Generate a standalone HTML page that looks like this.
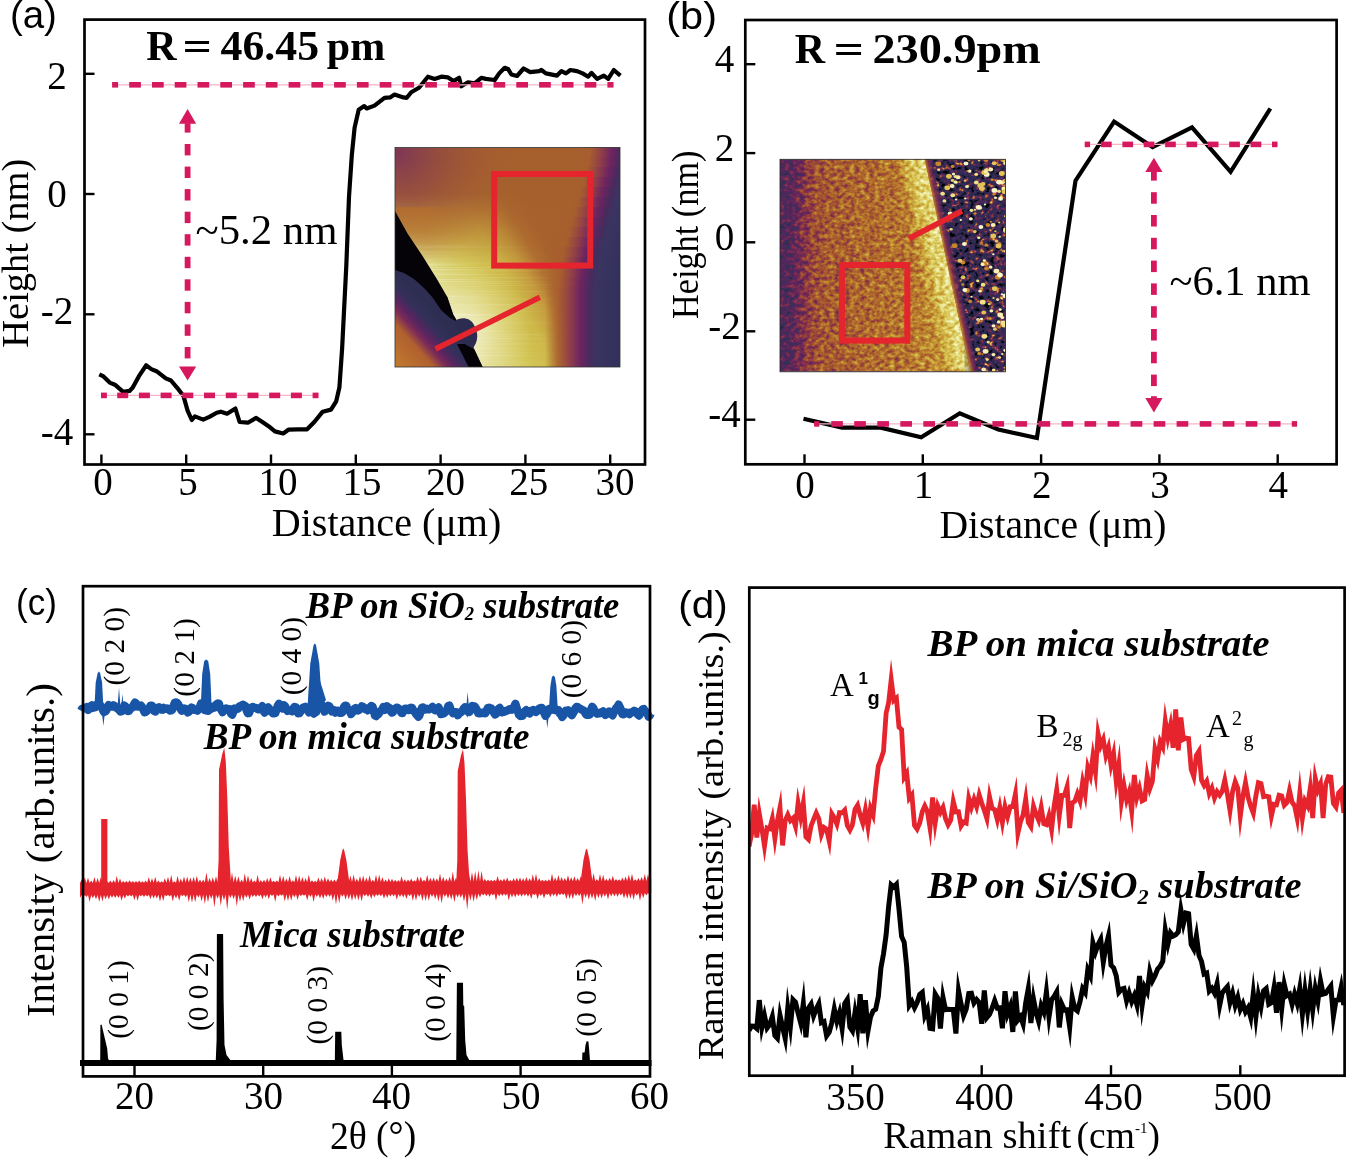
<!DOCTYPE html><html><head><meta charset="utf-8"><style>html,body{margin:0;padding:0;background:#fff;}svg{display:block;will-change:transform;}</style></head><body>
<svg width="1348" height="1158" viewBox="0 0 1348 1158">
<rect width="1348" height="1158" fill="#fff"/>
<defs><filter id="afmBL" filterUnits="userSpaceOnUse" x="779" y="158" width="228" height="215" color-interpolation-filters="sRGB">
 <feTurbulence type="fractalNoise" baseFrequency="0.2 0.26" numOctaves="2" seed="4" result="n"/>
 <feColorMatrix in="n" type="matrix" values="1 0 0 0 0  1 0 0 0 0  1 0 0 0 0  0 0 0 0 1" result="ng"/>
 <feComposite in="SourceGraphic" in2="ng" operator="arithmetic" k1="0" k2="1" k3="0.45" k4="-0.225" result="h"/>
 <feComponentTransfer in="h" result="c">
  <feFuncR type="table" tableValues="0.000 0.047 0.141 0.208 0.345 0.533 0.659 0.753 0.831 0.910 0.988"/>
  <feFuncG type="table" tableValues="0.000 0.039 0.133 0.196 0.141 0.188 0.353 0.541 0.737 0.894 0.988"/>
  <feFuncB type="table" tableValues="0.000 0.110 0.243 0.345 0.369 0.290 0.173 0.188 0.282 0.549 0.910"/>
  <feFuncA type="linear" slope="0" intercept="1"/>
 </feComponentTransfer>
 <feComposite in="c" in2="SourceAlpha" operator="in"/>
</filter>
<filter id="afmBR" filterUnits="userSpaceOnUse" x="779" y="158" width="228" height="215" color-interpolation-filters="sRGB">
 <feTurbulence type="fractalNoise" baseFrequency="0.2 0.24" numOctaves="2" seed="9" result="n"/>
 <feColorMatrix in="n" type="matrix" values="1 0 0 0 0  1 0 0 0 0  1 0 0 0 0  0 0 0 0 1" result="ng"/>
 <feComposite in="SourceGraphic" in2="ng" operator="arithmetic" k1="0" k2="1" k3="1.3" k4="-0.650" result="h"/>
 <feComponentTransfer in="h" result="c">
  <feFuncR type="table" tableValues="0.000 0.024 0.110 0.173 0.196 0.306 0.541 0.722 0.863 0.957 1.000"/>
  <feFuncG type="table" tableValues="0.000 0.016 0.102 0.165 0.173 0.149 0.204 0.455 0.769 0.941 1.000"/>
  <feFuncB type="table" tableValues="0.000 0.055 0.204 0.314 0.337 0.345 0.282 0.173 0.345 0.722 0.941"/>
  <feFuncA type="linear" slope="0" intercept="1"/>
 </feComponentTransfer>
 <feComposite in="c" in2="SourceAlpha" operator="in"/>
</filter>
<linearGradient id="bHL" gradientUnits="userSpaceOnUse" x1="780" y1="0" x2="930" y2="0">
 <stop offset="0" stop-color="#5e5e5e"/>
 <stop offset="0.07" stop-color="#636363"/>
 <stop offset="0.14" stop-color="#787878"/>
 <stop offset="0.22" stop-color="#8f8f8f"/>
 <stop offset="0.32" stop-color="#999999"/>
 <stop offset="0.6" stop-color="#a1a1a1"/>
 <stop offset="0.85" stop-color="#a8a8a8"/>
 <stop offset="1" stop-color="#b2b2b2"/>
</linearGradient>
<linearGradient id="bHE" gradientUnits="userSpaceOnUse" x1="916.5" y1="272.2" x2="947.8" y2="265.5">
 <stop offset="0" stop-color="#adadad" stop-opacity="0"/>
 <stop offset="0.35" stop-color="#c4c4c4" stop-opacity="1"/>
 <stop offset="0.7" stop-color="#d9d9d9"/>
 <stop offset="1" stop-color="#e0e0e0"/>
</linearGradient>
<linearGradient id="bHR" gradientUnits="userSpaceOnUse" x1="947.8" y1="265.5" x2="965.4" y2="261.8">
 <stop offset="0" stop-color="#8c8c8c"/>
 <stop offset="0.2" stop-color="#737373"/>
 <stop offset="0.5" stop-color="#5c5c5c"/>
 <stop offset="1" stop-color="#5e5e5e"/>
</linearGradient>
<linearGradient id="bHR2" gradientUnits="userSpaceOnUse" x1="955" y1="0" x2="1006" y2="0">
 <stop offset="0" stop-color="#5e5e5e" stop-opacity="0"/>
 <stop offset="1" stop-color="#6e6e6e" stop-opacity="1"/>
</linearGradient>
<linearGradient id="bRim" gradientUnits="userSpaceOnUse" x1="947.8" y1="265.5" x2="955.6" y2="263.8">
 <stop offset="0" stop-color="#c07a30" stop-opacity="0.9"/>
 <stop offset="0.35" stop-color="#8a3448" stop-opacity="0.85"/>
 <stop offset="0.75" stop-color="#5a2460" stop-opacity="0.7"/>
 <stop offset="1" stop-color="#3a2a58" stop-opacity="0"/>
</linearGradient>
<filter id="blobBlur" x="-0.1" y="-0.1" width="1.2" height="1.2"><feGaussianBlur stdDeviation="0.45"/></filter>
<linearGradient id="aR0" gradientUnits="userSpaceOnUse" x1="576.5" y1="0" x2="656.5" y2="0"><stop offset="0" stop-color="#a85e2e" stop-opacity="0"/><stop offset="0.1625" stop-color="#a85e2e" stop-opacity="0.9"/><stop offset="0.3125" stop-color="#903e48"/><stop offset="0.4375" stop-color="#6e2460"/><stop offset="0.55" stop-color="#4a2a5e"/><stop offset="0.6375" stop-color="#3a3460"/><stop offset="1" stop-color="#30305a"/></linearGradient>
<linearGradient id="aR1" gradientUnits="userSpaceOnUse" x1="575.4" y1="0" x2="655.4" y2="0"><stop offset="0" stop-color="#a85e2e" stop-opacity="0"/><stop offset="0.1625" stop-color="#a85e2e" stop-opacity="0.9"/><stop offset="0.3125" stop-color="#903e48"/><stop offset="0.4375" stop-color="#6e2460"/><stop offset="0.55" stop-color="#4a2a5e"/><stop offset="0.6375" stop-color="#3a3460"/><stop offset="1" stop-color="#30305a"/></linearGradient>
<linearGradient id="aR2" gradientUnits="userSpaceOnUse" x1="573.2" y1="0" x2="653.2" y2="0"><stop offset="0" stop-color="#a85e2e" stop-opacity="0"/><stop offset="0.1625" stop-color="#a85e2e" stop-opacity="0.9"/><stop offset="0.3125" stop-color="#903e48"/><stop offset="0.4375" stop-color="#6e2460"/><stop offset="0.55" stop-color="#4a2a5e"/><stop offset="0.6375" stop-color="#3a3460"/><stop offset="1" stop-color="#30305a"/></linearGradient>
<linearGradient id="aR3" gradientUnits="userSpaceOnUse" x1="570.3" y1="0" x2="650.3" y2="0"><stop offset="0" stop-color="#a85e2e" stop-opacity="0"/><stop offset="0.1625" stop-color="#a85e2e" stop-opacity="0.9"/><stop offset="0.3125" stop-color="#903e48"/><stop offset="0.4375" stop-color="#6e2460"/><stop offset="0.55" stop-color="#4a2a5e"/><stop offset="0.6375" stop-color="#3a3460"/><stop offset="1" stop-color="#30305a"/></linearGradient>
<linearGradient id="aR4" gradientUnits="userSpaceOnUse" x1="567.4" y1="0" x2="647.4" y2="0"><stop offset="0" stop-color="#a85e2e" stop-opacity="0"/><stop offset="0.1625" stop-color="#a85e2e" stop-opacity="0.9"/><stop offset="0.3125" stop-color="#903e48"/><stop offset="0.4375" stop-color="#6e2460"/><stop offset="0.55" stop-color="#4a2a5e"/><stop offset="0.6375" stop-color="#3a3460"/><stop offset="1" stop-color="#30305a"/></linearGradient>
<linearGradient id="aR5" gradientUnits="userSpaceOnUse" x1="564.4" y1="0" x2="644.4" y2="0"><stop offset="0" stop-color="#a85e2e" stop-opacity="0"/><stop offset="0.1625" stop-color="#a85e2e" stop-opacity="0.9"/><stop offset="0.3125" stop-color="#903e48"/><stop offset="0.4375" stop-color="#6e2460"/><stop offset="0.55" stop-color="#4a2a5e"/><stop offset="0.6375" stop-color="#3a3460"/><stop offset="1" stop-color="#30305a"/></linearGradient>
<linearGradient id="aR6" gradientUnits="userSpaceOnUse" x1="561.6" y1="0" x2="641.6" y2="0"><stop offset="0" stop-color="#a85e2e" stop-opacity="0"/><stop offset="0.1625" stop-color="#a85e2e" stop-opacity="0.9"/><stop offset="0.3125" stop-color="#903e48"/><stop offset="0.4375" stop-color="#6e2460"/><stop offset="0.55" stop-color="#4a2a5e"/><stop offset="0.6375" stop-color="#3a3460"/><stop offset="1" stop-color="#30305a"/></linearGradient>
<linearGradient id="aR7" gradientUnits="userSpaceOnUse" x1="558.8" y1="0" x2="638.8" y2="0"><stop offset="0" stop-color="#a85e2e" stop-opacity="0"/><stop offset="0.1625" stop-color="#a85e2e" stop-opacity="0.9"/><stop offset="0.3125" stop-color="#903e48"/><stop offset="0.4375" stop-color="#6e2460"/><stop offset="0.55" stop-color="#4a2a5e"/><stop offset="0.6375" stop-color="#3a3460"/><stop offset="1" stop-color="#30305a"/></linearGradient>
<linearGradient id="aR8" gradientUnits="userSpaceOnUse" x1="556.0" y1="0" x2="636.0" y2="0"><stop offset="0" stop-color="#a85e2e" stop-opacity="0"/><stop offset="0.1625" stop-color="#a85e2e" stop-opacity="0.9"/><stop offset="0.3125" stop-color="#903e48"/><stop offset="0.4375" stop-color="#6e2460"/><stop offset="0.55" stop-color="#4a2a5e"/><stop offset="0.6375" stop-color="#3a3460"/><stop offset="1" stop-color="#30305a"/></linearGradient>
<linearGradient id="aR9" gradientUnits="userSpaceOnUse" x1="553.2" y1="0" x2="633.2" y2="0"><stop offset="0" stop-color="#a85e2e" stop-opacity="0"/><stop offset="0.1625" stop-color="#a85e2e" stop-opacity="0.9"/><stop offset="0.3125" stop-color="#903e48"/><stop offset="0.4375" stop-color="#6e2460"/><stop offset="0.55" stop-color="#4a2a5e"/><stop offset="0.6375" stop-color="#3a3460"/><stop offset="1" stop-color="#30305a"/></linearGradient>
<linearGradient id="aR10" gradientUnits="userSpaceOnUse" x1="550.4" y1="0" x2="630.4" y2="0"><stop offset="0" stop-color="#a85e2e" stop-opacity="0"/><stop offset="0.1625" stop-color="#a85e2e" stop-opacity="0.9"/><stop offset="0.3125" stop-color="#903e48"/><stop offset="0.4375" stop-color="#6e2460"/><stop offset="0.55" stop-color="#4a2a5e"/><stop offset="0.6375" stop-color="#3a3460"/><stop offset="1" stop-color="#30305a"/></linearGradient>
<linearGradient id="aR11" gradientUnits="userSpaceOnUse" x1="548.4" y1="0" x2="628.4" y2="0"><stop offset="0" stop-color="#a85e2e" stop-opacity="0"/><stop offset="0.1625" stop-color="#a85e2e" stop-opacity="0.9"/><stop offset="0.3125" stop-color="#903e48"/><stop offset="0.4375" stop-color="#6e2460"/><stop offset="0.55" stop-color="#4a2a5e"/><stop offset="0.6375" stop-color="#3a3460"/><stop offset="1" stop-color="#30305a"/></linearGradient>
<linearGradient id="aR12" gradientUnits="userSpaceOnUse" x1="547.2" y1="0" x2="627.2" y2="0"><stop offset="0" stop-color="#a85e2e" stop-opacity="0"/><stop offset="0.1625" stop-color="#a85e2e" stop-opacity="0.9"/><stop offset="0.3125" stop-color="#903e48"/><stop offset="0.4375" stop-color="#6e2460"/><stop offset="0.55" stop-color="#4a2a5e"/><stop offset="0.6375" stop-color="#3a3460"/><stop offset="1" stop-color="#30305a"/></linearGradient>
<linearGradient id="aR13" gradientUnits="userSpaceOnUse" x1="546.0" y1="0" x2="626.0" y2="0"><stop offset="0" stop-color="#a85e2e" stop-opacity="0"/><stop offset="0.1625" stop-color="#a85e2e" stop-opacity="0.9"/><stop offset="0.3125" stop-color="#903e48"/><stop offset="0.4375" stop-color="#6e2460"/><stop offset="0.55" stop-color="#4a2a5e"/><stop offset="0.6375" stop-color="#3a3460"/><stop offset="1" stop-color="#30305a"/></linearGradient>
<linearGradient id="aR14" gradientUnits="userSpaceOnUse" x1="545.0" y1="0" x2="625.0" y2="0"><stop offset="0" stop-color="#a85e2e" stop-opacity="0"/><stop offset="0.1625" stop-color="#a85e2e" stop-opacity="0.9"/><stop offset="0.3125" stop-color="#903e48"/><stop offset="0.4375" stop-color="#6e2460"/><stop offset="0.55" stop-color="#4a2a5e"/><stop offset="0.6375" stop-color="#3a3460"/><stop offset="1" stop-color="#30305a"/></linearGradient>
<linearGradient id="aR15" gradientUnits="userSpaceOnUse" x1="545.0" y1="0" x2="625.0" y2="0"><stop offset="0" stop-color="#a85e2e" stop-opacity="0"/><stop offset="0.1625" stop-color="#a85e2e" stop-opacity="0.9"/><stop offset="0.3125" stop-color="#903e48"/><stop offset="0.4375" stop-color="#6e2460"/><stop offset="0.55" stop-color="#4a2a5e"/><stop offset="0.6375" stop-color="#3a3460"/><stop offset="1" stop-color="#30305a"/></linearGradient>
<linearGradient id="aR16" gradientUnits="userSpaceOnUse" x1="545.0" y1="0" x2="625.0" y2="0"><stop offset="0" stop-color="#a85e2e" stop-opacity="0"/><stop offset="0.1625" stop-color="#a85e2e" stop-opacity="0.9"/><stop offset="0.3125" stop-color="#903e48"/><stop offset="0.4375" stop-color="#6e2460"/><stop offset="0.55" stop-color="#4a2a5e"/><stop offset="0.6375" stop-color="#3a3460"/><stop offset="1" stop-color="#30305a"/></linearGradient>
<linearGradient id="aR17" gradientUnits="userSpaceOnUse" x1="545.0" y1="0" x2="625.0" y2="0"><stop offset="0" stop-color="#a85e2e" stop-opacity="0"/><stop offset="0.1625" stop-color="#a85e2e" stop-opacity="0.9"/><stop offset="0.3125" stop-color="#903e48"/><stop offset="0.4375" stop-color="#6e2460"/><stop offset="0.55" stop-color="#4a2a5e"/><stop offset="0.6375" stop-color="#3a3460"/><stop offset="1" stop-color="#30305a"/></linearGradient>
<linearGradient id="aR18" gradientUnits="userSpaceOnUse" x1="545.0" y1="0" x2="625.0" y2="0"><stop offset="0" stop-color="#a85e2e" stop-opacity="0"/><stop offset="0.1625" stop-color="#a85e2e" stop-opacity="0.9"/><stop offset="0.3125" stop-color="#903e48"/><stop offset="0.4375" stop-color="#6e2460"/><stop offset="0.55" stop-color="#4a2a5e"/><stop offset="0.6375" stop-color="#3a3460"/><stop offset="1" stop-color="#30305a"/></linearGradient>
<linearGradient id="aR19" gradientUnits="userSpaceOnUse" x1="545.0" y1="0" x2="625.0" y2="0"><stop offset="0" stop-color="#a85e2e" stop-opacity="0"/><stop offset="0.1625" stop-color="#a85e2e" stop-opacity="0.9"/><stop offset="0.3125" stop-color="#903e48"/><stop offset="0.4375" stop-color="#6e2460"/><stop offset="0.55" stop-color="#4a2a5e"/><stop offset="0.6375" stop-color="#3a3460"/><stop offset="1" stop-color="#30305a"/></linearGradient>
<linearGradient id="aR20" gradientUnits="userSpaceOnUse" x1="545.0" y1="0" x2="625.0" y2="0"><stop offset="0" stop-color="#a85e2e" stop-opacity="0"/><stop offset="0.1625" stop-color="#a85e2e" stop-opacity="0.9"/><stop offset="0.3125" stop-color="#903e48"/><stop offset="0.4375" stop-color="#6e2460"/><stop offset="0.55" stop-color="#4a2a5e"/><stop offset="0.6375" stop-color="#3a3460"/><stop offset="1" stop-color="#30305a"/></linearGradient>
<linearGradient id="aR21" gradientUnits="userSpaceOnUse" x1="545.0" y1="0" x2="625.0" y2="0"><stop offset="0" stop-color="#a85e2e" stop-opacity="0"/><stop offset="0.1625" stop-color="#a85e2e" stop-opacity="0.9"/><stop offset="0.3125" stop-color="#903e48"/><stop offset="0.4375" stop-color="#6e2460"/><stop offset="0.55" stop-color="#4a2a5e"/><stop offset="0.6375" stop-color="#3a3460"/><stop offset="1" stop-color="#30305a"/></linearGradient>
</defs>
<defs>
<clipPath id="clipA"><rect x="395" y="147.5" width="225" height="219.5"/></clipPath>
<clipPath id="clipB"><rect x="780" y="159.3" width="225.5" height="212.5"/></clipPath>
<linearGradient id="aBase" gradientUnits="userSpaceOnUse" x1="395" y1="211" x2="499.8" y2="152.6">
 <stop offset="0" stop-color="#e2de90"/>
 <stop offset="0.12" stop-color="#dad274"/>
 <stop offset="0.33" stop-color="#d4c656"/>
 <stop offset="0.54" stop-color="#cdb848"/>
 <stop offset="0.7" stop-color="#c49a3c"/>
 <stop offset="0.83" stop-color="#b07030"/>
 <stop offset="0.95" stop-color="#a7612d"/>
 <stop offset="1" stop-color="#a55f2d"/>
</linearGradient>
<linearGradient id="aEdgeTop" gradientUnits="userSpaceOnUse" x1="0" y1="205" x2="0" y2="262">
 <stop offset="0" stop-color="#b06a2e" stop-opacity="0.9"/>
 <stop offset="0.45" stop-color="#b87a30" stop-opacity="0.75"/>
 <stop offset="1" stop-color="#c89a3a" stop-opacity="0"/>
</linearGradient>
<linearGradient id="aEdgeMaskG" gradientUnits="userSpaceOnUse" x1="425" y1="0" x2="500" y2="0">
 <stop offset="0" stop-color="#fff"/>
 <stop offset="1" stop-color="#000"/>
</linearGradient>
<mask id="aEdgeMask" maskUnits="userSpaceOnUse" x="390" y="200" width="120" height="70"><rect x="390" y="200" width="120" height="70" fill="url(#aEdgeMaskG)"/></mask>
<linearGradient id="aTop" gradientUnits="userSpaceOnUse" x1="0" y1="147" x2="0" y2="265">
 <stop offset="0" stop-color="#a55f2d" stop-opacity="1"/>
 <stop offset="0.4" stop-color="#a6602d" stop-opacity="0.95"/>
 <stop offset="0.7" stop-color="#a8642e" stop-opacity="0.4"/>
 <stop offset="1" stop-color="#aa682e" stop-opacity="0"/>
</linearGradient>
<linearGradient id="streakMaskG" gradientUnits="userSpaceOnUse" x1="430" y1="0" x2="560" y2="0">
 <stop offset="0" stop-color="#fff"/>
 <stop offset="0.5" stop-color="#fff" stop-opacity="0.6"/>
 <stop offset="1" stop-color="#fff" stop-opacity="0"/>
</linearGradient>
<mask id="streakMask" maskUnits="userSpaceOnUse" x="395" y="147" width="225" height="220"><rect x="395" y="262" width="225" height="105" fill="url(#streakMaskG)"/><rect x="395" y="245" width="225" height="17" fill="url(#streakMaskG)" opacity="0.35"/></mask>
<linearGradient id="aRight" gradientUnits="userSpaceOnUse" x1="547" y1="257" x2="626.5" y2="266">
 <stop offset="0" stop-color="#a8602c" stop-opacity="0"/>
 <stop offset="0.35" stop-color="#a8602c" stop-opacity="0"/>
 <stop offset="0.5" stop-color="#a25a30" stop-opacity="0.9"/>
 <stop offset="0.6" stop-color="#843860" stop-opacity="1"/>
 <stop offset="0.7" stop-color="#6a2262"/>
 <stop offset="0.8" stop-color="#4a2a60"/>
 <stop offset="0.9" stop-color="#383660"/>
 <stop offset="1" stop-color="#30305a"/>
</linearGradient>
<radialGradient id="aTopL" gradientUnits="userSpaceOnUse" cx="398" cy="152" r="115">
 <stop offset="0" stop-color="#7c3458" stop-opacity="0.95"/>
 <stop offset="0.45" stop-color="#8a4048" stop-opacity="0.45"/>
 <stop offset="1" stop-color="#a05a30" stop-opacity="0"/>
</radialGradient>
<radialGradient id="aGlow" gradientUnits="userSpaceOnUse" cx="462" cy="334" r="70">
 <stop offset="0" stop-color="#f8f8e4" stop-opacity="0.9"/>
 <stop offset="0.5" stop-color="#f0eec0" stop-opacity="0.45"/>
 <stop offset="1" stop-color="#e8e4a0" stop-opacity="0"/>
</radialGradient>
<linearGradient id="aLow" gradientUnits="userSpaceOnUse" x1="438.5" y1="318.4" x2="390.1" y2="361.8">
 <stop offset="0" stop-color="#2e2e52"/>
 <stop offset="0.16" stop-color="#33305a"/>
 <stop offset="0.3" stop-color="#5a2460"/>
 <stop offset="0.4" stop-color="#7a2a58"/>
 <stop offset="0.55" stop-color="#b0602e"/>
 <stop offset="1" stop-color="#c27c2e"/>
</linearGradient>
<filter id="streak" x="0" y="0" width="1" height="1">
 <feTurbulence type="fractalNoise" baseFrequency="0.006 0.7" numOctaves="2" seed="3"/>
 <feColorMatrix type="matrix" values="0 0 0 0 1  0 0 0 0 1  0 0 0 0 1  0 0 0 1.6 -0.75"/>
</filter>
<linearGradient id="bBase" x1="0" y1="0" x2="1" y2="0">
 <stop offset="0" stop-color="#3c2c5a"/>
 <stop offset="0.08" stop-color="#5a2a5e"/>
 <stop offset="0.18" stop-color="#8a3c4c"/>
 <stop offset="0.28" stop-color="#a4602c"/>
 <stop offset="0.45" stop-color="#b07a2c"/>
 <stop offset="0.55" stop-color="#b88a30"/>
 <stop offset="0.62" stop-color="#c8a43c"/>
 <stop offset="0.7" stop-color="#dcc85c"/>
 <stop offset="0.78" stop-color="#f0eaa8"/>
</linearGradient>
<filter id="grain" x="0" y="0" width="1" height="1">
 <feTurbulence type="fractalNoise" baseFrequency="0.35 0.25" numOctaves="2" seed="7"/>
 <feColorMatrix type="matrix" values="0 0 0 0 0.2  0 0 0 0 0.1  0 0 0 0 0.1  0 0 0 -1.6 0.9"/>
</filter>
<filter id="grain2" x="0" y="0" width="1" height="1">
 <feTurbulence type="fractalNoise" baseFrequency="0.3 0.22" numOctaves="2" seed="11"/>
 <feColorMatrix type="matrix" values="0 0 0 0 1  0 0 0 0 0.95  0 0 0 0 0.6  0 0 0 2.2 -1.25"/>
</filter>
</defs>
<g clip-path="url(#clipA)">
<rect x="395" y="147.5" width="225" height="219.5" fill="url(#aBase)"/>
<rect x="395" y="147.5" width="225" height="219.5" fill="url(#aTop)"/>
<rect x="395" y="147.5" width="225" height="219.5" fill="url(#aTopL)"/>
<polygon points="395,207 395,211 407.7,233.8 422.4,255.8 426,262 505,262 505,207" fill="url(#aEdgeTop)" mask="url(#aEdgeMask)"/>
<rect x="395" y="147" width="225" height="10" fill="url(#aR0)" shape-rendering="crispEdges"/>
<rect x="395" y="157" width="225" height="10" fill="url(#aR1)" shape-rendering="crispEdges"/>
<rect x="395" y="167" width="225" height="10" fill="url(#aR2)" shape-rendering="crispEdges"/>
<rect x="395" y="177" width="225" height="10" fill="url(#aR3)" shape-rendering="crispEdges"/>
<rect x="395" y="187" width="225" height="10" fill="url(#aR4)" shape-rendering="crispEdges"/>
<rect x="395" y="197" width="225" height="10" fill="url(#aR5)" shape-rendering="crispEdges"/>
<rect x="395" y="207" width="225" height="10" fill="url(#aR6)" shape-rendering="crispEdges"/>
<rect x="395" y="217" width="225" height="10" fill="url(#aR7)" shape-rendering="crispEdges"/>
<rect x="395" y="227" width="225" height="10" fill="url(#aR8)" shape-rendering="crispEdges"/>
<rect x="395" y="237" width="225" height="10" fill="url(#aR9)" shape-rendering="crispEdges"/>
<rect x="395" y="247" width="225" height="10" fill="url(#aR10)" shape-rendering="crispEdges"/>
<rect x="395" y="257" width="225" height="10" fill="url(#aR11)" shape-rendering="crispEdges"/>
<rect x="395" y="267" width="225" height="10" fill="url(#aR12)" shape-rendering="crispEdges"/>
<rect x="395" y="277" width="225" height="10" fill="url(#aR13)" shape-rendering="crispEdges"/>
<rect x="395" y="287" width="225" height="10" fill="url(#aR14)" shape-rendering="crispEdges"/>
<rect x="395" y="297" width="225" height="10" fill="url(#aR15)" shape-rendering="crispEdges"/>
<rect x="395" y="307" width="225" height="10" fill="url(#aR16)" shape-rendering="crispEdges"/>
<rect x="395" y="317" width="225" height="10" fill="url(#aR17)" shape-rendering="crispEdges"/>
<rect x="395" y="327" width="225" height="10" fill="url(#aR18)" shape-rendering="crispEdges"/>
<rect x="395" y="337" width="225" height="10" fill="url(#aR19)" shape-rendering="crispEdges"/>
<rect x="395" y="347" width="225" height="10" fill="url(#aR20)" shape-rendering="crispEdges"/>
<rect x="395" y="357" width="225" height="10" fill="url(#aR21)" shape-rendering="crispEdges"/>
<rect x="395" y="147.5" width="225" height="219.5" fill="url(#aGlow)"/>
<rect x="395" y="147.5" width="225" height="219.5" filter="url(#streak)" opacity="0.6" mask="url(#streakMask)"/>
<polygon points="395,250 447.3,297 453.2,314.6 457.6,322 466.4,320.4 473,326.3 476.7,336.6 473,345.4 474.5,349.8 482.6,367 395,367" fill="url(#aLow)"/>
<polygon points="395,211 407.7,233.8 422.4,255.8 437,279.3 447.3,297 453.2,314.6 457.6,322 450,318 441,310 433,298 424,288 414,279 404,273 395,270" fill="#050308"/>
<polygon points="457,344 468.6,367 482.6,367 474.5,349.8 466,344" fill="#050308"/>
<path d="M455,321 C460,317 470,317 474,325 C479,333 478,342 473,348 L466,345 C461,338 458,330 455,321 Z" fill="#2c2c50"/>
</g>
<rect x="395" y="147.5" width="225" height="219.5" fill="none" stroke="#333" stroke-width="0.8"/>
<rect x="494.2" y="174" width="96" height="91.6" fill="none" stroke="#e5242d" stroke-width="6"/>
<line x1="435.5" y1="349" x2="539.8" y2="297.3" stroke="#e5242d" stroke-width="5.6"/>
<polyline points="99.3,374.3 103.5,376.4 109.7,382.6 114.9,384.7 123.2,391.9 129.5,390.9 132.6,387.8 138.8,376.4 146.1,365.3 151.3,369.1 156.5,371.2 165.8,378.4 171,380.5 177.2,387.8 183.5,396.1 187.6,410.6 191.8,420 194.9,416.4 203.2,419.6 209.4,416.9 216.7,412.7 220.9,411.7 227.1,413.7 235.4,408.5 239.6,422 247.9,422.7 256.2,417.9 262.4,422 268.6,426.2 274.9,431.4 283.2,433.5 288.4,429.7 297.7,429.3 307.1,429.3 314.3,422 322.7,411.7 331,409.6 336.2,401.3 339.4,387.5 342.1,348.8 346.3,265.9 349,196.8 351.8,155.3 354.6,127.6 358.7,109.7 364.2,106.1 366.7,108.5 374.5,105.6 384.5,97.8 390.1,97.4 394.5,94.5 403.4,97.4 406.8,97.8 411.2,92.3 419,87.8 427.9,76.7 434.6,78.9 441.3,76.7 448,77.4 453.5,81.1 459.1,77.8 461.3,86.3 468,82.3 474.7,83.4 481.3,77.8 485.8,78.9 494.7,80 499.2,73.4 504.7,67.8 508,68.9 511.4,74.5 517,76 523.6,68.5 530.3,72.2 539.2,71.1 541.4,70 545.9,73.4 557,75.6 561.5,71.1 565.9,73.4 570.4,70 577,71.1 582.6,73.4 588.2,76.7 591.5,72.9 597.1,78.9 603.8,75.6 608.2,78.9 613.8,70 620.4,75.6" fill="none" stroke="#000" stroke-width="4.2" stroke-linejoin="round" stroke-linecap="butt"/>
<line x1="112.1" y1="84.8" x2="613.5" y2="84.8" stroke="#f7b4c2" stroke-width="1.2"/>
<g fill="#d6185f"><rect x="112.1" y="82" width="6" height="5.6"/><rect x="129.2" y="82" width="11.7" height="5.6"/><rect x="152" y="82" width="11.7" height="5.6"/><rect x="174.7" y="82" width="11.7" height="5.6"/><rect x="197.5" y="82" width="11.7" height="5.6"/><rect x="220.3" y="82" width="11.7" height="5.6"/><rect x="243.1" y="82" width="11.7" height="5.6"/><rect x="265.8" y="82" width="11.7" height="5.6"/><rect x="288.6" y="82" width="11.7" height="5.6"/><rect x="311.4" y="82" width="11.7" height="5.6"/><rect x="334.1" y="82" width="11.7" height="5.6"/><rect x="356.9" y="82" width="11.7" height="5.6"/><rect x="379.7" y="82" width="11.7" height="5.6"/><rect x="402.4" y="82" width="11.7" height="5.6"/><rect x="425.2" y="82" width="11.7" height="5.6"/><rect x="448" y="82" width="11.7" height="5.6"/><rect x="470.7" y="82" width="11.7" height="5.6"/><rect x="493.5" y="82" width="11.7" height="5.6"/><rect x="516.3" y="82" width="11.7" height="5.6"/><rect x="539.1" y="82" width="11.7" height="5.6"/><rect x="561.8" y="82" width="11.7" height="5.6"/><rect x="584.6" y="82" width="11.7" height="5.6"/><rect x="607.4" y="82" width="6.1" height="5.6"/></g>
<line x1="101" y1="395.4" x2="318.5" y2="395.4" stroke="#f7b4c2" stroke-width="1.2"/>
<g fill="#d6185f"><rect x="101" y="392.6" width="5.9" height="5.6"/><rect x="117.2" y="392.6" width="11" height="5.6"/><rect x="138.9" y="392.6" width="11" height="5.6"/><rect x="160.6" y="392.6" width="11" height="5.6"/><rect x="182.3" y="392.6" width="11" height="5.6"/><rect x="204" y="392.6" width="11" height="5.6"/><rect x="225.8" y="392.6" width="11" height="5.6"/><rect x="247.5" y="392.6" width="11" height="5.6"/><rect x="269.2" y="392.6" width="11" height="5.6"/><rect x="290.9" y="392.6" width="11" height="5.6"/><rect x="312.6" y="392.6" width="5.9" height="5.6"/></g>
<g fill="#d6185f"><polygon points="187.6,109.1 179,123.7 196.2,123.7"/><rect x="184.7" y="123.2" width="5.8" height="9.4"/><rect x="184.7" y="144" width="5.8" height="11.4"/><rect x="184.7" y="166.6" width="5.8" height="11.4"/><rect x="184.7" y="189.1" width="5.8" height="11.4"/><rect x="184.7" y="211.7" width="5.8" height="11.4"/><rect x="184.7" y="234.2" width="5.8" height="11.4"/><rect x="184.7" y="256.8" width="5.8" height="11.4"/><rect x="184.7" y="279.3" width="5.8" height="11.4"/><rect x="184.7" y="301.9" width="5.8" height="11.4"/><rect x="184.7" y="324.4" width="5.8" height="11.4"/><rect x="184.7" y="347" width="5.8" height="11.4"/><polygon points="179,366.6 196.2,366.6 187.6,380.5"/></g>
<rect x="84.5" y="19.6" width="560.5" height="444.9" fill="none" stroke="#000" stroke-width="2.7"/>
<line x1="84.5" y1="73.8" x2="94.5" y2="73.8" stroke="#000" stroke-width="2.4"/>
<text x="57" y="88.9" font-family='"Liberation Serif", serif' font-size="39" font-weight="normal" font-style="normal" text-anchor="middle">2</text>
<line x1="84.5" y1="194" x2="94.5" y2="194" stroke="#000" stroke-width="2.4"/>
<text x="57" y="206.9" font-family='"Liberation Serif", serif' font-size="39" font-weight="normal" font-style="normal" text-anchor="middle">0</text>
<line x1="84.5" y1="314.3" x2="94.5" y2="314.3" stroke="#000" stroke-width="2.4"/>
<text x="57" y="323.8" font-family='"Liberation Serif", serif' font-size="39" font-weight="normal" font-style="normal" text-anchor="middle">-2</text>
<line x1="84.5" y1="434.3" x2="94.5" y2="434.3" stroke="#000" stroke-width="2.4"/>
<text x="57" y="444.7" font-family='"Liberation Serif", serif' font-size="39" font-weight="normal" font-style="normal" text-anchor="middle">-4</text>
<line x1="101.4" y1="464.5" x2="101.4" y2="454.5" stroke="#000" stroke-width="2.4"/>
<text x="103" y="495" font-family='"Liberation Serif", serif' font-size="39" font-weight="normal" font-style="normal" text-anchor="middle">0</text>
<line x1="186.2" y1="464.5" x2="186.2" y2="454.5" stroke="#000" stroke-width="2.4"/>
<text x="188" y="495" font-family='"Liberation Serif", serif' font-size="39" font-weight="normal" font-style="normal" text-anchor="middle">5</text>
<line x1="271" y1="464.5" x2="271" y2="454.5" stroke="#000" stroke-width="2.4"/>
<text x="277.9" y="495" font-family='"Liberation Serif", serif' font-size="39" font-weight="normal" font-style="normal" text-anchor="middle">10</text>
<line x1="355.8" y1="464.5" x2="355.8" y2="454.5" stroke="#000" stroke-width="2.4"/>
<text x="362" y="495" font-family='"Liberation Serif", serif' font-size="39" font-weight="normal" font-style="normal" text-anchor="middle">15</text>
<line x1="440.6" y1="464.5" x2="440.6" y2="454.5" stroke="#000" stroke-width="2.4"/>
<text x="445.6" y="495" font-family='"Liberation Serif", serif' font-size="39" font-weight="normal" font-style="normal" text-anchor="middle">20</text>
<line x1="525.4" y1="464.5" x2="525.4" y2="454.5" stroke="#000" stroke-width="2.4"/>
<text x="528.8" y="495" font-family='"Liberation Serif", serif' font-size="39" font-weight="normal" font-style="normal" text-anchor="middle">25</text>
<line x1="610.2" y1="464.5" x2="610.2" y2="454.5" stroke="#000" stroke-width="2.4"/>
<text x="615" y="495" font-family='"Liberation Serif", serif' font-size="39" font-weight="normal" font-style="normal" text-anchor="middle">30</text>
<text x="9.9" y="28.4" font-family='"Liberation Sans", sans-serif' font-size="38.5" font-weight="normal" font-style="normal" text-anchor="start">(a)</text>
<text x="146.2" y="60" font-family='"Liberation Serif", serif' font-size="42" font-weight="bold" font-style="normal" text-anchor="start">R</text>
<text x="182.6" y="60" font-family='"Liberation Serif", serif' font-size="42" font-weight="bold" font-style="normal" text-anchor="start" textLength="29.4" lengthAdjust="spacingAndGlyphs">=</text>
<text x="220.6" y="60" font-family='"Liberation Serif", serif' font-size="42" font-weight="bold" font-style="normal" text-anchor="start" textLength="98.5" lengthAdjust="spacingAndGlyphs">46.45</text>
<text x="326.8" y="60" font-family='"Liberation Serif", serif' font-size="42" font-weight="bold" font-style="normal" text-anchor="start">pm</text>
<text x="195.5" y="244.2" font-family='"Liberation Serif", serif' font-size="43" font-weight="normal" font-style="normal" text-anchor="start" textLength="142" lengthAdjust="spacingAndGlyphs">~5.2 nm</text>
<text x="386.5" y="536" font-family='"Liberation Serif", serif' font-size="40" font-weight="normal" font-style="normal" text-anchor="middle" textLength="229.5" lengthAdjust="spacingAndGlyphs">Distance (μm)</text>
<text transform="translate(27.6 253.2) rotate(-90)" x="0" y="0" font-family='"Liberation Serif", serif' font-size="38.5" font-weight="normal" text-anchor="middle" textLength="189" lengthAdjust="spacingAndGlyphs">Height (nm)</text>
<g clip-path="url(#clipB)">
<g filter="url(#afmBL)"><polygon points="780,159.3 925,159.3 970.7,371.8 780,371.8" fill="url(#bHL)"/><polygon points="893,159.3 925,159.3 970.7,371.8 938.7,371.8" fill="url(#bHE)"/></g>
<g filter="url(#afmBR)"><polygon points="925,159.3 1006,159.3 1006,371.8 970.7,371.8" fill="url(#bHR)"/><polygon points="955,159.3 1006,159.3 1006,371.8 965,371.8" fill="url(#bHR2)"/></g>
<polygon points="924.5,159.3 933,159.3 978.7,371.8 970.2,371.8" fill="url(#bRim)"/>
<g filter="url(#blobBlur)"><ellipse cx="1002.2" cy="183" rx="1.9" ry="1.6" fill="#f8f0b0"/><ellipse cx="997.9" cy="277.2" rx="2.9" ry="2.4" fill="#c8862c"/><ellipse cx="996.5" cy="241.1" rx="1.9" ry="1.6" fill="#e2c458"/><ellipse cx="978.1" cy="319.5" rx="1.9" ry="1.6" fill="#fbf6c8"/><ellipse cx="986.5" cy="268.5" rx="2.4" ry="2" fill="#c8862c"/><ellipse cx="1002.3" cy="354" rx="1.2" ry="1" fill="#f8f0b0"/><ellipse cx="1004.9" cy="371.7" rx="1.9" ry="1.6" fill="#e2c458"/><ellipse cx="980.4" cy="207.9" rx="1.9" ry="1.6" fill="#e2c458"/><ellipse cx="966.9" cy="290.4" rx="2.9" ry="2.4" fill="#c8862c"/><ellipse cx="985" cy="204.6" rx="1.2" ry="1" fill="#fbf6c8"/><ellipse cx="999" cy="327.1" rx="1.9" ry="1.6" fill="#c8862c"/><ellipse cx="999.6" cy="272.9" rx="1.2" ry="1" fill="#e2c458"/><ellipse cx="983.7" cy="263.7" rx="2.9" ry="2.4" fill="#c8862c"/><ellipse cx="976.2" cy="174.3" rx="1.9" ry="1.6" fill="#f0e08a"/><ellipse cx="983.7" cy="312.5" rx="2.4" ry="2" fill="#e2c458"/><ellipse cx="969.5" cy="171.1" rx="1.9" ry="1.6" fill="#fbf6c8"/><ellipse cx="1002" cy="160.6" rx="1.6" ry="1.3" fill="#c8862c"/><ellipse cx="990.8" cy="169.5" rx="2.4" ry="2" fill="#f8f0b0"/><ellipse cx="994.8" cy="288.6" rx="2.9" ry="2.4" fill="#e2c458"/><ellipse cx="988.2" cy="342.1" rx="1.6" ry="1.3" fill="#f0e08a"/><ellipse cx="956.1" cy="199.5" rx="1.2" ry="1" fill="#f8f0b0"/><ellipse cx="999.7" cy="236.7" rx="1.2" ry="1" fill="#f8f0b0"/><ellipse cx="962.9" cy="262.6" rx="2.4" ry="2" fill="#c8862c"/><ellipse cx="998.4" cy="165" rx="1.6" ry="1.3" fill="#c8862c"/><ellipse cx="983.7" cy="369.4" rx="2.4" ry="2" fill="#f8f0b0"/><ellipse cx="980.1" cy="291" rx="1.9" ry="1.6" fill="#f8f0b0"/><ellipse cx="1005.4" cy="295.8" rx="2.9" ry="2.4" fill="#fbf6c8"/><ellipse cx="948.3" cy="217.4" rx="1.6" ry="1.3" fill="#c8862c"/><ellipse cx="987.8" cy="225.1" rx="2.4" ry="2" fill="#c8862c"/><ellipse cx="995.3" cy="231.3" rx="1.2" ry="1" fill="#e2c458"/><ellipse cx="999.1" cy="191.3" rx="1.9" ry="1.6" fill="#f0e08a"/><ellipse cx="938.7" cy="169.7" rx="1.6" ry="1.3" fill="#f0e08a"/><ellipse cx="999.6" cy="357.5" rx="1.6" ry="1.3" fill="#f0e08a"/><ellipse cx="999.4" cy="182.1" rx="2.9" ry="2.4" fill="#fbf6c8"/><ellipse cx="966" cy="163.6" rx="2.4" ry="2" fill="#fbf6c8"/><ellipse cx="960.8" cy="220.1" rx="1.2" ry="1" fill="#fbf6c8"/><ellipse cx="1004.3" cy="189" rx="2.9" ry="2.4" fill="#f8f0b0"/><ellipse cx="994.1" cy="163.2" rx="2.4" ry="2" fill="#e2c458"/><ellipse cx="999.2" cy="222.6" rx="1.2" ry="1" fill="#e2c458"/><ellipse cx="1005.1" cy="231.5" rx="1.6" ry="1.3" fill="#e2c458"/><ellipse cx="997.6" cy="299.6" rx="1.6" ry="1.3" fill="#f8f0b0"/><ellipse cx="983.1" cy="284.7" rx="2.4" ry="2" fill="#f0e08a"/><ellipse cx="950.1" cy="213.6" rx="2.4" ry="2" fill="#f8f0b0"/><ellipse cx="1000" cy="275.1" rx="2.9" ry="2.4" fill="#fbf6c8"/><ellipse cx="982.7" cy="302.2" rx="2.9" ry="2.4" fill="#f0e08a"/><ellipse cx="1004.4" cy="161.3" rx="1.9" ry="1.6" fill="#e2c458"/><ellipse cx="993.5" cy="325.8" rx="1.9" ry="1.6" fill="#fbf6c8"/><ellipse cx="968.9" cy="159.9" rx="1.6" ry="1.3" fill="#c8862c"/><ellipse cx="947.3" cy="187.8" rx="2.9" ry="2.4" fill="#e2c458"/><ellipse cx="1005.2" cy="160.3" rx="1.9" ry="1.6" fill="#e2c458"/><ellipse cx="959.4" cy="182" rx="1.2" ry="1" fill="#c8862c"/><ellipse cx="960" cy="260.8" rx="2.4" ry="2" fill="#e2c458"/><ellipse cx="965.3" cy="198.6" rx="1.2" ry="1" fill="#fbf6c8"/><ellipse cx="971.5" cy="210.3" rx="1.9" ry="1.6" fill="#f0e08a"/><ellipse cx="993.2" cy="225" rx="2.4" ry="2" fill="#f8f0b0"/><ellipse cx="944.4" cy="200.9" rx="1.9" ry="1.6" fill="#f0e08a"/><ellipse cx="986.6" cy="174.4" rx="2.9" ry="2.4" fill="#fbf6c8"/><ellipse cx="1004.9" cy="163.5" rx="1.6" ry="1.3" fill="#f8f0b0"/><ellipse cx="970.3" cy="301.4" rx="1.9" ry="1.6" fill="#c8862c"/><ellipse cx="964.8" cy="289.9" rx="2.4" ry="2" fill="#fbf6c8"/><ellipse cx="971.5" cy="296.8" rx="1.2" ry="1" fill="#f8f0b0"/><ellipse cx="1004.4" cy="181.2" rx="2.4" ry="2" fill="#f0e08a"/><ellipse cx="983.2" cy="184" rx="2.4" ry="2" fill="#e2c458"/><ellipse cx="984.4" cy="336.3" rx="2.9" ry="2.4" fill="#f0e08a"/><ellipse cx="977.7" cy="349.5" rx="2.4" ry="2" fill="#e2c458"/><ellipse cx="996.4" cy="271.1" rx="2.9" ry="2.4" fill="#f8f0b0"/><ellipse cx="986.3" cy="245.2" rx="1.9" ry="1.6" fill="#c8862c"/><ellipse cx="990.7" cy="267.1" rx="1.9" ry="1.6" fill="#f8f0b0"/><ellipse cx="954.6" cy="245.7" rx="2.9" ry="2.4" fill="#c8862c"/><ellipse cx="958" cy="177.2" rx="2.4" ry="2" fill="#f8f0b0"/><ellipse cx="1000.2" cy="309.6" rx="1.6" ry="1.3" fill="#f8f0b0"/><ellipse cx="978.7" cy="207.3" rx="2.9" ry="2.4" fill="#fbf6c8"/><ellipse cx="993.2" cy="235.9" rx="2.9" ry="2.4" fill="#e2c458"/><ellipse cx="1002.8" cy="324.9" rx="2.9" ry="2.4" fill="#c8862c"/><ellipse cx="1005.9" cy="251.4" rx="1.6" ry="1.3" fill="#fbf6c8"/><ellipse cx="1005.2" cy="350.3" rx="1.9" ry="1.6" fill="#f8f0b0"/><ellipse cx="974.8" cy="231.6" rx="1.9" ry="1.6" fill="#e2c458"/><ellipse cx="1004.6" cy="191.7" rx="2.9" ry="2.4" fill="#e2c458"/><ellipse cx="1000.6" cy="198.8" rx="2.4" ry="2" fill="#fbf6c8"/><ellipse cx="962.6" cy="284.5" rx="1.6" ry="1.3" fill="#c8862c"/><ellipse cx="985.6" cy="351.3" rx="2.9" ry="2.4" fill="#f8f0b0"/><ellipse cx="955.7" cy="182.2" rx="1.9" ry="1.6" fill="#f8f0b0"/><ellipse cx="970.9" cy="218.8" rx="1.9" ry="1.6" fill="#fbf6c8"/><ellipse cx="1003.5" cy="323" rx="2.9" ry="2.4" fill="#f0e08a"/><ellipse cx="952.2" cy="186" rx="2.4" ry="2" fill="#f8f0b0"/><ellipse cx="1005.9" cy="229.9" rx="2.9" ry="2.4" fill="#f0e08a"/><ellipse cx="989.3" cy="304" rx="1.6" ry="1.3" fill="#e2c458"/><ellipse cx="992.9" cy="372" rx="1.9" ry="1.6" fill="#c8862c"/><ellipse cx="993.5" cy="298.1" rx="1.2" ry="1" fill="#e2c458"/><ellipse cx="942.6" cy="193.8" rx="2.4" ry="2" fill="#f0e08a"/><ellipse cx="938.3" cy="163.8" rx="2.9" ry="2.4" fill="#c8862c"/><ellipse cx="998.7" cy="321.9" rx="1.9" ry="1.6" fill="#f8f0b0"/><ellipse cx="984.4" cy="260.6" rx="1.6" ry="1.3" fill="#f8f0b0"/><ellipse cx="979" cy="160.6" rx="1.2" ry="1" fill="#e2c458"/><ellipse cx="952.8" cy="195.2" rx="2.4" ry="2" fill="#f0e08a"/><ellipse cx="947.8" cy="217.5" rx="1.9" ry="1.6" fill="#f0e08a"/><ellipse cx="963.1" cy="277.2" rx="2.4" ry="2" fill="#e2c458"/><ellipse cx="975" cy="213.5" rx="1.6" ry="1.3" fill="#c8862c"/><ellipse cx="980.9" cy="227" rx="2.4" ry="2" fill="#fbf6c8"/><ellipse cx="993.5" cy="354.6" rx="1.9" ry="1.6" fill="#f8f0b0"/><ellipse cx="1001.9" cy="294.2" rx="1.2" ry="1" fill="#fbf6c8"/><ellipse cx="977.7" cy="280.9" rx="1.6" ry="1.3" fill="#f0e08a"/><ellipse cx="987.2" cy="359.6" rx="1.6" ry="1.3" fill="#f0e08a"/><ellipse cx="1002.3" cy="317.5" rx="1.9" ry="1.6" fill="#f8f0b0"/><ellipse cx="984.3" cy="172.4" rx="2.9" ry="2.4" fill="#e2c458"/><ellipse cx="992.2" cy="179.7" rx="1.6" ry="1.3" fill="#c8862c"/><ellipse cx="995.5" cy="197.7" rx="1.6" ry="1.3" fill="#f8f0b0"/><ellipse cx="975" cy="209.8" rx="1.2" ry="1" fill="#f0e08a"/><ellipse cx="1001.3" cy="159.3" rx="1.2" ry="1" fill="#e2c458"/><ellipse cx="952.6" cy="180.4" rx="1.9" ry="1.6" fill="#e2c458"/><ellipse cx="1000.2" cy="314.9" rx="2.9" ry="2.4" fill="#f8f0b0"/><ellipse cx="994.4" cy="190.4" rx="2.9" ry="2.4" fill="#fbf6c8"/><ellipse cx="1004.9" cy="180.8" rx="1.2" ry="1" fill="#c8862c"/><ellipse cx="981.9" cy="188.5" rx="2.9" ry="2.4" fill="#e2c458"/><ellipse cx="982.5" cy="264.3" rx="1.9" ry="1.6" fill="#fbf6c8"/><ellipse cx="985.7" cy="159.8" rx="2.4" ry="2" fill="#c8862c"/><ellipse cx="953.5" cy="174.1" rx="1.6" ry="1.3" fill="#fbf6c8"/><ellipse cx="964.4" cy="244" rx="2.4" ry="2" fill="#fbf6c8"/><ellipse cx="964.9" cy="180.8" rx="1.2" ry="1" fill="#e2c458"/><ellipse cx="1004.3" cy="325.4" rx="2.4" ry="2" fill="#f0e08a"/><ellipse cx="1001.8" cy="173.5" rx="2.9" ry="2.4" fill="#e2c458"/><ellipse cx="980.2" cy="185.4" rx="2.9" ry="2.4" fill="#e2c458"/><ellipse cx="976.3" cy="182.4" rx="2.4" ry="2" fill="#f0e08a"/><ellipse cx="951.1" cy="229.2" rx="1.6" ry="1.3" fill="#f0e08a"/><ellipse cx="952.6" cy="166.4" rx="1.9" ry="1.6" fill="#c8862c"/><ellipse cx="955.5" cy="176.5" rx="1.9" ry="1.6" fill="#f0e08a"/><ellipse cx="978.6" cy="320.4" rx="1.6" ry="1.3" fill="#e2c458"/><ellipse cx="998.7" cy="182.3" rx="2.4" ry="2" fill="#fbf6c8"/><ellipse cx="993.3" cy="254.3" rx="1.2" ry="1" fill="#f8f0b0"/><ellipse cx="1001.8" cy="321.9" rx="1.2" ry="1" fill="#f0e08a"/><ellipse cx="990.9" cy="221.8" rx="1.2" ry="1" fill="#c8862c"/><ellipse cx="991.4" cy="310.8" rx="1.9" ry="1.6" fill="#f8f0b0"/><ellipse cx="981.5" cy="319" rx="1.6" ry="1.3" fill="#fbf6c8"/><ellipse cx="978.8" cy="237.8" rx="1.6" ry="1.3" fill="#f8f0b0"/><ellipse cx="948.9" cy="176.3" rx="2.9" ry="2.4" fill="#e2c458"/><ellipse cx="998.5" cy="246" rx="2.9" ry="2.4" fill="#e2c458"/><ellipse cx="979.2" cy="353.4" rx="1.9" ry="1.6" fill="#c8862c"/><ellipse cx="993.7" cy="370" rx="1.9" ry="1.6" fill="#f0e08a"/><ellipse cx="986.4" cy="170.2" rx="2.4" ry="2" fill="#f0e08a"/><ellipse cx="985.4" cy="172.1" rx="1.6" ry="1.3" fill="#f8f0b0"/><ellipse cx="967" cy="186.5" rx="1.9" ry="1.6" fill="#f8f0b0"/><ellipse cx="1005" cy="216.2" rx="1.2" ry="1" fill="#e2c458"/><ellipse cx="967.5" cy="170.9" rx="1.2" ry="1" fill="#c8862c"/><ellipse cx="994" cy="194.2" rx="1.6" ry="1.3" fill="#c8862c"/><ellipse cx="994.9" cy="329.2" rx="1.9" ry="1.6" fill="#e2c458"/></g>
</g>
<rect x="780" y="159.3" width="225.5" height="212.5" fill="none" stroke="#222" stroke-width="0.8"/>
<rect x="842" y="265" width="65.3" height="75.6" fill="none" stroke="#e5242d" stroke-width="6"/>
<line x1="908.9" y1="238.6" x2="962.1" y2="211" stroke="#e5242d" stroke-width="5.6"/>
<polyline points="803.5,418.7 842.1,427.6 880.7,427.6 921.2,437.2 959.8,413.3 998.3,429.5 1036.9,438 1075.5,180.7 1114.1,121.6 1152.6,147.1 1192,127.4 1230.6,171.8 1270.3,108.5" fill="none" stroke="#000" stroke-width="4.2" stroke-linejoin="miter" stroke-linecap="butt"/>
<line x1="1084.7" y1="144.4" x2="1277.5" y2="144.4" stroke="#f7b4c2" stroke-width="1.2"/>
<g fill="#d6185f"><rect x="1084.7" y="141.6" width="5.4" height="5.6"/><rect x="1101" y="141.6" width="10.7" height="5.6"/><rect x="1122.4" y="141.6" width="10.7" height="5.6"/><rect x="1143.7" y="141.6" width="10.7" height="5.6"/><rect x="1165.1" y="141.6" width="10.7" height="5.6"/><rect x="1186.5" y="141.6" width="10.7" height="5.6"/><rect x="1207.8" y="141.6" width="10.7" height="5.6"/><rect x="1229.2" y="141.6" width="10.7" height="5.6"/><rect x="1250.6" y="141.6" width="10.7" height="5.6"/><rect x="1272" y="141.6" width="5.5" height="5.6"/></g>
<line x1="814.1" y1="423.9" x2="1297.1" y2="423.9" stroke="#f7b4c2" stroke-width="1.2"/>
<g fill="#d6185f"><rect x="814.1" y="421.1" width="5.2" height="5.6"/><rect x="831.2" y="421.1" width="11.7" height="5.6"/><rect x="854.2" y="421.1" width="11.7" height="5.6"/><rect x="877.3" y="421.1" width="11.7" height="5.6"/><rect x="900.3" y="421.1" width="11.7" height="5.6"/><rect x="923.3" y="421.1" width="11.7" height="5.6"/><rect x="946.3" y="421.1" width="11.7" height="5.6"/><rect x="969.4" y="421.1" width="11.7" height="5.6"/><rect x="992.4" y="421.1" width="11.7" height="5.6"/><rect x="1015.4" y="421.1" width="11.7" height="5.6"/><rect x="1038.5" y="421.1" width="11.7" height="5.6"/><rect x="1061.5" y="421.1" width="11.7" height="5.6"/><rect x="1084.5" y="421.1" width="11.7" height="5.6"/><rect x="1107.6" y="421.1" width="11.7" height="5.6"/><rect x="1130.6" y="421.1" width="11.7" height="5.6"/><rect x="1153.6" y="421.1" width="11.7" height="5.6"/><rect x="1176.6" y="421.1" width="11.7" height="5.6"/><rect x="1199.7" y="421.1" width="11.7" height="5.6"/><rect x="1222.7" y="421.1" width="11.7" height="5.6"/><rect x="1245.7" y="421.1" width="11.7" height="5.6"/><rect x="1268.8" y="421.1" width="11.7" height="5.6"/><rect x="1291.8" y="421.1" width="5.3" height="5.6"/></g>
<g fill="#d6185f"><polygon points="1153.9,157.7 1145.3,172 1162.5,172"/><rect x="1151" y="171.5" width="5.8" height="9.1"/><rect x="1151" y="192.2" width="5.8" height="11.5"/><rect x="1151" y="215" width="5.8" height="11.5"/><rect x="1151" y="237.8" width="5.8" height="11.5"/><rect x="1151" y="260.6" width="5.8" height="11.5"/><rect x="1151" y="283.4" width="5.8" height="11.5"/><rect x="1151" y="306.2" width="5.8" height="11.5"/><rect x="1151" y="329" width="5.8" height="11.5"/><rect x="1151" y="351.8" width="5.8" height="11.5"/><rect x="1151" y="374.6" width="5.8" height="11.5"/><rect x="1151" y="396.2" width="5.8" height="2.4"/><polygon points="1145.3,398.1 1162.5,398.1 1153.9,412.4"/></g>
<rect x="745.3" y="20" width="591.3" height="444.3" fill="none" stroke="#000" stroke-width="2.7"/>
<line x1="745.3" y1="64.2" x2="755.3" y2="64.2" stroke="#000" stroke-width="2.4"/>
<text x="724.6" y="71.6" font-family='"Liberation Serif", serif' font-size="39" font-weight="normal" font-style="normal" text-anchor="middle">4</text>
<line x1="745.3" y1="153.1" x2="755.3" y2="153.1" stroke="#000" stroke-width="2.4"/>
<text x="724.6" y="160.5" font-family='"Liberation Serif", serif' font-size="39" font-weight="normal" font-style="normal" text-anchor="middle">2</text>
<line x1="745.3" y1="242.3" x2="755.3" y2="242.3" stroke="#000" stroke-width="2.4"/>
<text x="724.6" y="249.7" font-family='"Liberation Serif", serif' font-size="39" font-weight="normal" font-style="normal" text-anchor="middle">0</text>
<line x1="745.3" y1="331.3" x2="755.3" y2="331.3" stroke="#000" stroke-width="2.4"/>
<text x="724.6" y="338.7" font-family='"Liberation Serif", serif' font-size="39" font-weight="normal" font-style="normal" text-anchor="middle">-2</text>
<line x1="745.3" y1="419.7" x2="755.3" y2="419.7" stroke="#000" stroke-width="2.4"/>
<text x="724.6" y="427.1" font-family='"Liberation Serif", serif' font-size="39" font-weight="normal" font-style="normal" text-anchor="middle">-4</text>
<line x1="804.5" y1="464.3" x2="804.5" y2="454.3" stroke="#000" stroke-width="2.4"/>
<text x="805.1" y="497.8" font-family='"Liberation Serif", serif' font-size="39" font-weight="normal" font-style="normal" text-anchor="middle">0</text>
<line x1="922.8" y1="464.3" x2="922.8" y2="454.3" stroke="#000" stroke-width="2.4"/>
<text x="923.4" y="497.8" font-family='"Liberation Serif", serif' font-size="39" font-weight="normal" font-style="normal" text-anchor="middle">1</text>
<line x1="1041.1" y1="464.3" x2="1041.1" y2="454.3" stroke="#000" stroke-width="2.4"/>
<text x="1041.7" y="497.8" font-family='"Liberation Serif", serif' font-size="39" font-weight="normal" font-style="normal" text-anchor="middle">2</text>
<line x1="1159.4" y1="464.3" x2="1159.4" y2="454.3" stroke="#000" stroke-width="2.4"/>
<text x="1160" y="497.8" font-family='"Liberation Serif", serif' font-size="39" font-weight="normal" font-style="normal" text-anchor="middle">3</text>
<line x1="1277.7" y1="464.3" x2="1277.7" y2="454.3" stroke="#000" stroke-width="2.4"/>
<text x="1278.3" y="497.8" font-family='"Liberation Serif", serif' font-size="39" font-weight="normal" font-style="normal" text-anchor="middle">4</text>
<text x="666.3" y="29.1" font-family='"Liberation Sans", sans-serif' font-size="39.5" font-weight="normal" font-style="normal" text-anchor="start" textLength="50.7" lengthAdjust="spacingAndGlyphs">(b)</text>
<text x="794.8" y="63.2" font-family='"Liberation Serif", serif' font-size="42" font-weight="bold" font-style="normal" text-anchor="start">R</text>
<text x="833.5" y="63.2" font-family='"Liberation Serif", serif' font-size="42" font-weight="bold" font-style="normal" text-anchor="start" textLength="30.5" lengthAdjust="spacingAndGlyphs">=</text>
<text x="872.5" y="63.2" font-family='"Liberation Serif", serif' font-size="42" font-weight="bold" font-style="normal" text-anchor="start" textLength="168.2" lengthAdjust="spacingAndGlyphs">230.9pm</text>
<text x="1169.5" y="295" font-family='"Liberation Serif", serif' font-size="43" font-weight="normal" font-style="normal" text-anchor="start" textLength="141" lengthAdjust="spacingAndGlyphs">~6.1 nm</text>
<text x="1052.9" y="537.9" font-family='"Liberation Serif", serif' font-size="40" font-weight="normal" font-style="normal" text-anchor="middle" textLength="227" lengthAdjust="spacingAndGlyphs">Distance (μm)</text>
<text transform="translate(698.1 234.8) rotate(-90)" x="0" y="0" font-family='"Liberation Serif", serif' font-size="38.5" font-weight="normal" text-anchor="middle" textLength="168.6" lengthAdjust="spacingAndGlyphs">Height (nm)</text>
<polyline points="81,710.7 82.2,708.5 83.4,708.5 84.6,707.9 85.8,708.7 87,707.1 88.2,709.9 89.4,707.4 90.6,706.1 91.8,705.3 93,707.9 94.2,707.2 95.4,707.3 96.6,704.6 97.8,703.8 99,703 100.2,705.3 101.4,706.7 102.6,709.4 103.8,712 105,711.6 106.2,710.7 107.4,707.1 108.6,705.1 109.8,706.2 111,706.5 112.2,706.7 113.4,705.2 114.6,705.8 115.8,707.6 117,708.2 118.2,709.2 119.4,710.3 120.6,711.6 121.8,711.3 123,709 124.2,705.5 125.4,706.2 126.6,709.5 127.8,711.2 129,710.8 130.2,709.1 131.4,707.7 132.6,707.6 133.8,704.5 135,702.5 136.2,703.6 137.4,706.7 138.6,706.6 139.8,706.2 141,705.5 142.2,707.1 143.4,709.9 144.6,712.3 145.8,712 147,710.9 148.2,709.5 149.4,707.7 150.6,705.5 151.8,705.6 153,706.9 154.2,711.2 155.4,711.6 156.6,709.3 157.8,707.8 159,707.2 160.2,708.9 161.4,709.6 162.6,709.8 163.8,707.8 165,708.4 166.2,708.8 167.4,708.4 168.6,709 169.8,710.6 171,710.5 172.2,709.9 173.4,706.6 174.6,702.9 175.8,702.4 177,702.9 178.2,704.4 179.4,706.5 180.6,709.1 181.8,710.8 183,710.5 184.2,708.5 185.4,708.8 186.6,710.4 187.8,712.5 189,711.8 190.2,709 191.4,707.5 192.6,708 193.8,709.7 195,710 196.2,710.1 197.4,710.7 198.6,709.4 199.8,707.1 201,703.5 202.2,704.4 203.4,706.8 204.6,710.1 205.8,710.3 207,710.7 208.2,710.8 209.4,709.6 210.6,709.1 211.8,707.9 213,706.5 214.2,707.8 215.4,707.3 216.6,704.1 217.8,703.3 219,703.7 220.2,708.1 221.4,710.1 222.6,712.2 223.8,710.8 225,709.7 226.2,708.5 227.4,708.9 228.6,709.4 229.8,709.2 231,713.8 232.2,714.7 233.4,711.9 234.6,708.6 235.8,709.2 237,709.1 238.2,708.5 239.4,706.3 240.6,705.9 241.8,705.5 243,704.6 244.2,705.5 245.4,706 246.6,710.6 247.8,713.3 249,713.1 250.2,710.2 251.4,707.7 252.6,706.9 253.8,707.4 255,707.7 256.2,708 257.4,709 258.6,709.5 259.8,709.4 261,707.6 262.2,706.2 263.4,710.2 264.6,712.6 265.8,710.9 267,708.3 268.2,707.3 269.4,708.8 270.6,711.3 271.8,712.2 273,713.4 274.2,713.4 275.4,713 276.6,709.2 277.8,705.7 279,703.7 280.2,705.7 281.4,707.1 282.6,708.5 283.8,705.2 285,706.2 286.2,708.6 287.4,710.9 288.6,709.8 289.8,710.4 291,710.9 292.2,711.3 293.4,708.2 294.6,706.9 295.8,707.2 297,709.9 298.2,713.3 299.4,713.2 300.6,711.6 301.8,709 303,707.6 304.2,707.2 305.4,706.7 306.6,708.1 307.8,710.4 309,712.4 310.2,711.2 311.4,711.2 312.6,711.8 313.8,713.6 315,712.6 316.2,711.9 317.4,708.8 318.6,706.9 319.8,705.7 321,704.1 322.2,705.4 323.4,707.2 324.6,711.6 325.8,710.1 327,707.7 328.2,705.7 329.4,706.4 330.6,708.2 331.8,711.4 333,710.3 334.2,710.2 335.4,712.6 336.6,711.8 337.8,710.8 339,712 340.2,713 341.4,712.9 342.6,712 343.8,707.3 345,705.5 346.2,705.5 347.4,708.6 348.6,709.9 349.8,710.6 351,714.1 352.2,712.7 353.4,711.4 354.6,708.7 355.8,707.9 357,709.3 358.2,710.5 359.4,709.8 360.6,708.3 361.8,706.2 363,706.7 364.2,708.3 365.4,709.2 366.6,708.7 367.8,710.3 369,708.9 370.2,707.2 371.4,706 372.6,706.6 373.8,711.1 375,715.6 376.2,716.2 377.4,714.2 378.6,714.1 379.8,711.4 381,710.8 382.2,709.3 383.4,707 384.6,710 385.8,708.8 387,706.3 388.2,707.2 389.4,707.9 390.6,711.2 391.8,712.6 393,712.1 394.2,708.9 395.4,708.8 396.6,707.6 397.8,707.8 399,709 400.2,710.5 401.4,712.9 402.6,713.1 403.8,710.1 405,708.5 406.2,708.6 407.4,709.4 408.6,710 409.8,708.2 411,707.6 412.2,708 413.4,711 414.6,711.3 415.8,713.9 417,715 418.2,716.8 419.4,715.6 420.6,711.9 421.8,707.9 423,707.4 424.2,708.5 425.4,709.5 426.6,708.7 427.8,709.5 429,709.5 430.2,708.8 431.4,707.8 432.6,706.9 433.8,708.8 435,710.4 436.2,710.4 437.4,708.8 438.6,707.4 439.8,710.5 441,714.1 442.2,713.4 443.4,713.6 444.6,712.7 445.8,711.4 447,709.7 448.2,706 449.4,705.5 450.6,709.2 451.8,711.4 453,713.2 454.2,711.9 455.4,712.4 456.6,712.2 457.8,715.3 459,713.6 460.2,712.8 461.4,711.9 462.6,710.5 463.8,708.3 465,707.1 466.2,707.6 467.4,711.1 468.6,712.1 469.8,711.6 471,708.8 472.2,705.9 473.4,706.7 474.6,706.3 475.8,708.1 477,709.9 478.2,713.3 479.4,713.5 480.6,713.3 481.8,713.1 483,712.5 484.2,713.2 485.4,713.3 486.6,710.6 487.8,708 489,707.7 490.2,708.9 491.4,708.5 492.6,710.3 493.8,712.4 495,714.5 496.2,713.9 497.4,710.9 498.6,708.7 499.8,707.9 501,711.2 502.2,712.4 503.4,711.6 504.6,711.8 505.8,710.9 507,710.8 508.2,710.1 509.4,709.2 510.6,709.6 511.8,709.8 513,708.3 514.2,706.4 515.4,703.8 516.6,707.6 517.8,711.3 519,714.8 520.2,715.8 521.4,714.1 522.6,715.7 523.8,713.7 525,711.2 526.2,710.2 527.4,712.3 528.6,712.9 529.8,713.5 531,710.5 532.2,710.5 533.4,709.8 534.6,710.5 535.8,712 537,711.2 538.2,710.1 539.4,708.4 540.6,707.8 541.8,707.8 543,709.2 544.2,713.1 545.4,715.7 546.6,714.6 547.8,712 549,709.1 550.2,710.2 551.4,708.4 552.6,708.5 553.8,707.8 555,710.1 556.2,709.5 557.4,710.9 558.6,710.3 559.8,713.6 561,714.7 562.2,717 563.4,715.5 564.6,713.1 565.8,710.6 567,711 568.2,710.2 569.4,711.7 570.6,713.7 571.8,715.2 573,713.3 574.2,711.4 575.4,708.2 576.6,706.8 577.8,707 579,708.5 580.2,708.6 581.4,709.5 582.6,710.1 583.8,710.4 585,712.7 586.2,714.8 587.4,714.8 588.6,714.9 589.8,714.5 591,709.5 592.2,706.7 593.4,708.1 594.6,710.8 595.8,712.5 597,713.8 598.2,713.6 599.4,713.5 600.6,712.4 601.8,712.1 603,711.3 604.2,713.1 605.4,715 606.6,714.3 607.8,712.9 609,711.4 610.2,711.7 611.4,713.9 612.6,715.3 613.8,712.4 615,710.6 616.2,707.8 617.4,706.8 618.6,704.6 619.8,707 621,709.6 622.2,714 623.4,714.4 624.6,712.3 625.8,712.8 627,712.6 628.2,713.6 629.4,714.2 630.6,712.6 631.8,712.3 633,712.1 634.2,710.7 635.4,711.2 636.6,712.2 637.8,714.5 639,715.6 640.2,713.9 641.4,711.4 642.6,709.2 643.8,708.9 645,711.1 646.2,711.9 647.4,713.6 648.6,716.7 649.8,715.5 651,713.4" fill="none" stroke="#1955a6" stroke-width="8.2" stroke-linejoin="round" stroke-linecap="butt"/>
<polygon points="101.6,710 103.4,726 105.2,710" fill="#1955a6"/>
<polygon points="545.6,712 547.3,728 549.2,712" fill="#1955a6"/>
<polygon points="465.6,712 467.2,718 469,712" fill="#1955a6"/>
<polygon points="117.6,706 119,687.5 120.4,706" fill="#1955a6"/>
<polygon points="121.2,707 122.4,694 123.6,707" fill="#1955a6"/>
<polygon points="466.2,708 467.6,692 469,708" fill="#1955a6"/>
<polygon points="94.4,708 95.7,682.5 97.7,673 98.9,671.5 100.1,673 102.1,682.5 103.4,708" fill="#1955a6"/>
<polygon points="200.7,708 202.2,674.1 204.2,661.1 206.2,659.6 208.2,661.1 210.2,674.1 211.7,708" fill="#1955a6"/>
<polygon points="307.3,710 310.3,663.4 313.6,644.9 314.8,643.4 316,644.9 319.3,663.4 322.3,710" fill="#1955a6"/>
<polygon points="316,668 326,700 319,708 313,690" fill="#1955a6"/>
<polygon points="548.9,710 550.4,685.9 551.9,677.1 553.4,675.6 554.9,677.1 556.4,685.9 557.9,710" fill="#1955a6"/>
<polygon points="80,883 81.6,879.5 83.2,883 84.8,877.2 86.4,883 88,877.8 89.6,883 91.2,880.6 92.8,883 94.4,877 96,882.9 97.6,878.1 99.2,882.9 100.8,877.1 102.4,882.9 104,879.3 105.6,882.9 107.2,881.3 108.8,882.9 110.4,880.6 112,882.9 113.6,880 115.2,882.9 116.8,875.7 118.4,882.9 120,878.5 121.6,882.9 123.2,880.9 124.8,882.8 126.4,881.1 128,882.8 129.6,880.2 131.2,882.8 132.8,881 134.4,882.8 136,881 137.6,882.8 139.2,880.6 140.8,882.8 142.4,881.2 144,882.8 145.6,880.5 147.2,882.8 148.8,876.9 150.4,882.8 152,878.3 153.6,882.7 155.2,876.7 156.8,882.7 158.4,880.5 160,882.7 161.6,881.2 163.2,882.7 164.8,878.2 166.4,882.7 168,876.7 169.6,882.7 171.2,874.8 172.8,882.7 174.4,881.2 176,882.7 177.6,875.8 179.2,882.7 180.8,878.4 182.4,882.6 184,876.4 185.6,882.6 187.2,876.4 188.8,882.6 190.4,877.5 192,882.6 193.6,876.7 195.2,882.6 196.8,875.8 198.4,882.6 200,879.6 201.6,882.6 203.2,879.4 204.8,882.6 206.4,872.3 208,882.6 209.6,877.9 211.2,882.5 212.8,877.3 214.4,882.5 216,876.3 217.6,882.5 219.2,874.2 220.8,882.5 222.4,874.1 224,882.5 225.6,870.2 227.2,882.5 228.8,873.9 230.4,882.5 232,872.3 233.6,882.5 235.2,875.6 236.8,882.5 238.4,876.3 240,882.4 241.6,879.6 243.2,882.4 244.8,873.2 246.4,882.4 248,875.3 249.6,882.4 251.2,877.9 252.8,882.4 254.4,880.6 256,882.4 257.6,874.7 259.2,882.4 260.8,880.1 262.4,882.4 264,879.8 265.6,882.4 267.2,877.9 268.8,882.3 270.4,877.3 272,882.3 273.6,880.8 275.2,882.3 276.8,880.6 278.4,882.3 280,874.8 281.6,882.3 283.2,875.7 284.8,882.3 286.4,878.5 288,882.3 289.6,875.9 291.2,882.3 292.8,880.3 294.4,882.3 296,875.1 297.6,882.2 299.2,875.4 300.8,882.2 302.4,876.8 304,882.2 305.6,878 307.2,882.2 308.8,874.5 310.4,882.2 312,880.3 313.6,882.2 315.2,880.7 316.8,882.2 318.4,877.6 320,882.2 321.6,877.9 323.2,882.2 324.8,876.4 326.4,882.1 328,878.3 329.6,882.1 331.2,879.6 332.8,882.1 334.4,879.4 336,882.1 337.6,878.6 339.2,882.1 340.8,870.6 342.4,882.1 344,870.3 345.6,882.1 347.2,877.3 348.8,882.1 350.4,875.4 352,882 353.6,874.4 355.2,882 356.8,878.4 358.4,882 360,876.1 361.6,882 363.2,875.4 364.8,882 366.4,877.5 368,882 369.6,875.2 371.2,882 372.8,879.8 374.4,882 376,874.8 377.6,882 379.2,874.6 380.8,881.9 382.4,877 384,881.9 385.6,879.5 387.2,881.9 388.8,878.3 390.4,881.9 392,878.8 393.6,881.9 395.2,879.7 396.8,881.9 398.4,879.9 400,881.9 401.6,876.3 403.2,881.9 404.8,879.3 406.4,881.9 408,879.4 409.6,881.8 411.2,878.5 412.8,881.8 414.4,880.2 416,881.8 417.6,876.2 419.2,881.8 420.8,876.6 422.4,881.8 424,879.7 425.6,881.8 427.2,874.7 428.8,881.8 430.4,877.8 432,881.8 433.6,877.4 435.2,881.8 436.8,878.2 438.4,881.7 440,873.6 441.6,881.7 443.2,876.8 444.8,881.7 446.4,878.6 448,881.7 449.6,876.8 451.2,881.7 452.8,871.4 454.4,881.7 456,877.6 457.6,881.7 459.2,864 460.8,881.7 462.4,869.8 464,881.7 465.6,870 467.2,881.6 468.8,873.2 470.4,881.6 472,872.1 473.6,881.6 475.2,871.1 476.8,881.6 478.4,870.2 480,881.6 481.6,870.7 483.2,881.6 484.8,878.7 486.4,881.6 488,879.5 489.6,881.6 491.2,879.8 492.8,881.6 494.4,879.8 496,881.5 497.6,876.1 499.2,881.5 500.8,879.3 502.4,881.5 504,878.4 505.6,881.5 507.2,877.4 508.8,881.5 510.4,879.9 512,881.5 513.6,878.3 515.2,881.5 516.8,877.8 518.4,881.5 520,877.5 521.6,881.5 523.2,878.2 524.8,881.4 526.4,876.9 528,881.4 529.6,878.2 531.2,881.4 532.8,874.2 534.4,881.4 536,873.8 537.6,881.4 539.2,878.1 540.8,881.4 542.4,879.7 544,881.4 545.6,879.8 547.2,881.4 548.8,879.2 550.4,881.4 552,873.5 553.6,881.3 555.2,877.5 556.8,881.3 558.4,875.1 560,881.3 561.6,877 563.2,881.3 564.8,878 566.4,881.3 568,875.3 569.6,881.3 571.2,877.2 572.8,881.3 574.4,876.2 576,881.3 577.6,877.9 579.2,881.3 580.8,876.3 582.4,881.2 584,877.1 585.6,881.2 587.2,869.7 588.8,881.2 590.4,873.4 592,881.2 593.6,872.9 595.2,881.2 596.8,879.1 598.4,881.2 600,874.1 601.6,881.2 603.2,874.7 604.8,881.2 606.4,878.7 608,881.2 609.6,877.7 611.2,881.1 612.8,875.8 614.4,881.1 616,879.1 617.6,881.1 619.2,879.2 620.8,881.1 622.4,877.6 624,881.1 625.6,876.5 627.2,881.1 628.8,874.4 630.4,881.1 632,873.7 633.6,881.1 635.2,879.3 636.8,881 638.4,877.9 640,881 641.6,877 643.2,881 644.8,873.9 646.4,881 648,874 649.6,881 651.2,878.3 651.2,893 649.6,894.9 648,893 646.4,895.4 644.8,893 643.2,898.3 641.6,893 640,900.9 638.4,893 636.8,895.7 635.2,893.1 633.6,899.9 632,893.1 630.4,898.7 628.8,893.1 627.2,899 625.6,893.1 624,898.6 622.4,893.1 620.8,895.5 619.2,893.1 617.6,896.9 616,893.1 614.4,896.6 612.8,893.1 611.2,896.6 609.6,893.1 608,899.5 606.4,893.2 604.8,896.7 603.2,893.2 601.6,898.5 600,893.2 598.4,898.3 596.8,893.2 595.2,901.2 593.6,893.2 592,898.8 590.4,893.2 588.8,899.8 587.2,893.2 585.6,897.9 584,893.2 582.4,904.5 580.8,893.2 579.2,896.2 577.6,893.3 576,896.3 574.4,893.3 572.8,899.3 571.2,893.3 569.6,899 568,893.3 566.4,899.3 564.8,893.3 563.2,895.1 561.6,893.3 560,895.3 558.4,893.3 556.8,897 555.2,893.3 553.6,895.9 552,893.3 550.4,897.2 548.8,893.4 547.2,895.1 545.6,893.4 544,898.5 542.4,893.4 540.8,895.9 539.2,893.4 537.6,899.3 536,893.4 534.4,895.3 532.8,893.4 531.2,899.1 529.6,893.4 528,896.8 526.4,893.4 524.8,896 523.2,893.4 521.6,896.8 520,893.5 518.4,896.2 516.8,893.5 515.2,897.6 513.6,893.5 512,897.4 510.4,893.5 508.8,900.5 507.2,893.5 505.6,895.8 504,893.5 502.4,896 500.8,893.5 499.2,896.5 497.6,893.5 496,900.8 494.4,893.5 492.8,895.6 491.2,893.6 489.6,897.1 488,893.6 486.4,896.2 484.8,893.6 483.2,895.6 481.6,893.6 480,897.5 478.4,893.6 476.8,900.3 475.2,893.6 473.6,902.1 472,893.6 470.4,900.7 468.8,893.6 467.2,910 465.6,893.7 464,901.8 462.4,893.7 460.8,898.1 459.2,893.7 457.6,897.4 456,893.7 454.4,902.3 452.8,893.7 451.2,899.8 449.6,893.7 448,898.7 446.4,893.7 444.8,897 443.2,893.7 441.6,903.5 440,893.7 438.4,901.4 436.8,893.8 435.2,899.3 433.6,893.8 432,897 430.4,893.8 428.8,900.7 427.2,893.8 425.6,900.9 424,893.8 422.4,901 420.8,893.8 419.2,896.9 417.6,893.8 416,900.8 414.4,893.8 412.8,901 411.2,893.8 409.6,896.2 408,893.9 406.4,899.1 404.8,893.9 403.2,897.5 401.6,893.9 400,896.9 398.4,893.9 396.8,899.7 395.2,893.9 393.6,896.2 392,893.9 390.4,896.4 388.8,893.9 387.2,898 385.6,893.9 384,898.8 382.4,893.9 380.8,896.2 379.2,894 377.6,895.9 376,894 374.4,897.6 372.8,894 371.2,898.9 369.6,894 368,897 366.4,894 364.8,896.2 363.2,894 361.6,901.5 360,894 358.4,900.6 356.8,894 355.2,899.8 353.6,894 352,901 350.4,894.1 348.8,899.4 347.2,894.1 345.6,899.7 344,894.1 342.4,896.7 340.8,894.1 339.2,903.3 337.6,894.1 336,904.4 334.4,894.1 332.8,900.8 331.2,894.1 329.6,897 328,894.1 326.4,897.2 324.8,894.1 323.2,899 321.6,894.2 320,898.4 318.4,894.2 316.8,897 315.2,894.2 313.6,902.2 312,894.2 310.4,897.1 308.8,894.2 307.2,900.5 305.6,894.2 304,895.8 302.4,894.2 300.8,896.2 299.2,894.2 297.6,900 296,894.2 294.4,897.2 292.8,894.3 291.2,900.8 289.6,894.3 288,901.1 286.4,894.3 284.8,901.6 283.2,894.3 281.6,895.8 280,894.3 278.4,896.6 276.8,894.3 275.2,901.9 273.6,894.3 272,896 270.4,894.3 268.8,899.2 267.2,894.3 265.6,897.5 264,894.4 262.4,899.3 260.8,894.4 259.2,896.5 257.6,894.4 256,897 254.4,894.4 252.8,897 251.2,894.4 249.6,899.6 248,894.4 246.4,897.8 244.8,894.4 243.2,901.2 241.6,894.4 240,901.7 238.4,894.4 236.8,906.5 235.2,894.5 233.6,898.9 232,894.5 230.4,898 228.8,894.5 227.2,910.1 225.6,894.5 224,900.4 222.4,894.5 220.8,905.8 219.2,894.5 217.6,898.7 216,894.5 214.4,907.3 212.8,894.5 211.2,899.1 209.6,894.5 208,902.2 206.4,894.6 204.8,904.1 203.2,894.6 201.6,901.4 200,894.6 198.4,897.4 196.8,894.6 195.2,902.3 193.6,894.6 192,902.7 190.4,894.6 188.8,902.3 187.2,894.6 185.6,897.2 184,894.6 182.4,896.3 180.8,894.6 179.2,900.8 177.6,894.7 176,898.6 174.4,894.7 172.8,901.6 171.2,894.7 169.6,896.4 168,894.7 166.4,896.3 164.8,894.7 163.2,901.3 161.6,894.7 160,901.7 158.4,894.7 156.8,898.6 155.2,894.7 153.6,898.4 152,894.8 150.4,899 148.8,894.8 147.2,896.4 145.6,894.8 144,897 142.4,894.8 140.8,896.4 139.2,894.8 137.6,900.9 136,894.8 134.4,900.2 132.8,894.8 131.2,896.4 129.6,894.8 128,896.4 126.4,894.8 124.8,898.8 123.2,894.9 121.6,900.8 120,894.9 118.4,897.9 116.8,894.9 115.2,897.9 113.6,894.9 112,897.8 110.4,894.9 108.8,899.4 107.2,894.9 105.6,899.2 104,894.9 102.4,901.4 100.8,894.9 99.2,901.9 97.6,894.9 96,899.3 94.4,895 92.8,898.3 91.2,895 89.6,901.9 88,895 86.4,897 84.8,895 83.2,897.4 81.6,895 80,898" fill="#e5242d"/>
<rect x="101.2" y="819" width="6.2" height="66" fill="#e5242d"/>
<polygon points="217.3,888 218.6,860 219,769.8 222.3,753.8 224.3,747.8 225.8,761.8 227.3,797.8 228.8,847.8 231.3,888" fill="#e5242d"/>
<polygon points="456,888 457.3,860 457.7,771.3 461,755.3 463,749.3 464.5,763.3 466,799.3 467.5,849.3 470,888" fill="#e5242d"/>
<polygon points="336.8,886 340.3,859.8 342.5,850.1 343.3,848.6 344.1,850.1 346.3,859.8 349.8,886" fill="#e5242d"/>
<polygon points="580,886 583.5,859.7 585.7,849.9 586.5,848.4 587.3,849.9 589.5,859.7 593,886" fill="#e5242d"/>
<line x1="80" y1="1062.9" x2="651.5" y2="1062.9" stroke="#000" stroke-width="6"/>
<polygon points="100.2,1064 100.4,1025 101.6,1024.5 104.5,1037 107.2,1048.5 108,1058 110,1064" fill="#000"/>
<polygon points="215.6,1064 216.6,1040 216.9,934 223.1,934 223.6,1000 224.5,1045 226.5,1055 231.8,1062" fill="#000"/>
<polygon points="334.8,1064 335.2,1031.8 341.3,1031.8 341.8,1045 343.5,1060 344.5,1064" fill="#000"/>
<polygon points="456.2,1064 456.9,982.8 463,982.8 463.3,1005.6 464.2,1006 465.2,1040 466.5,1055 470,1061.5" fill="#000"/>
<polygon points="582,1064 582.4,1052.6 584.6,1052.6 585.5,1045 586.6,1041.3 588.4,1041.5 589.2,1050 590.2,1064" fill="#000"/>
<rect x="83" y="586.2" width="567" height="490.2" fill="none" stroke="#000" stroke-width="2.7"/>
<line x1="134.5" y1="1076.4" x2="134.5" y2="1065.9" stroke="#000" stroke-width="2.4"/>
<line x1="263.2" y1="1076.4" x2="263.2" y2="1065.9" stroke="#000" stroke-width="2.4"/>
<line x1="391.9" y1="1076.4" x2="391.9" y2="1065.9" stroke="#000" stroke-width="2.4"/>
<line x1="520.6" y1="1076.4" x2="520.6" y2="1065.9" stroke="#000" stroke-width="2.4"/>
<text x="134.5" y="1108.7" font-family='"Liberation Serif", serif' font-size="39" font-weight="normal" font-style="normal" text-anchor="middle">20</text>
<text x="263.4" y="1108.7" font-family='"Liberation Serif", serif' font-size="39" font-weight="normal" font-style="normal" text-anchor="middle">30</text>
<text x="391.6" y="1108.7" font-family='"Liberation Serif", serif' font-size="39" font-weight="normal" font-style="normal" text-anchor="middle">40</text>
<text x="521" y="1108.7" font-family='"Liberation Serif", serif' font-size="39" font-weight="normal" font-style="normal" text-anchor="middle">50</text>
<text x="649.5" y="1108.7" font-family='"Liberation Serif", serif' font-size="39" font-weight="normal" font-style="normal" text-anchor="middle">60</text>
<text x="16" y="615" font-family='"Liberation Sans", sans-serif' font-size="37" font-weight="normal" font-style="normal" text-anchor="start" textLength="40.9" lengthAdjust="spacingAndGlyphs">(c)</text>
<text x="305.8" y="617.8" font-family='"Liberation Serif", serif' font-size="37.5" font-weight="bold" font-style="italic" text-anchor="start" textLength="313.5" lengthAdjust="spacingAndGlyphs">BP on SiO<tspan font-size="19" dy="2">2</tspan><tspan dy="-2"> substrate</tspan></text>
<text x="203.7" y="748.5" font-family='"Liberation Serif", serif' font-size="38" font-weight="bold" font-style="italic" text-anchor="start" textLength="325.7" lengthAdjust="spacingAndGlyphs">BP on mica substrate</text>
<text x="240" y="947.2" font-family='"Liberation Serif", serif' font-size="38.5" font-weight="bold" font-style="italic" text-anchor="start" textLength="225" lengthAdjust="spacingAndGlyphs">Mica substrate</text>
<text transform="translate(123.5 646.2) rotate(-90)" x="0" y="0" font-family='"Liberation Serif", serif' font-size="30" font-weight="normal" text-anchor="middle" textLength="78.5" lengthAdjust="spacingAndGlyphs">(0 2 0)</text>
<text transform="translate(194.3 657.4) rotate(-90)" x="0" y="0" font-family='"Liberation Serif", serif' font-size="30" font-weight="normal" text-anchor="middle" textLength="78.5" lengthAdjust="spacingAndGlyphs">(0 2 1)</text>
<text transform="translate(301 656.1) rotate(-90)" x="0" y="0" font-family='"Liberation Serif", serif' font-size="30" font-weight="normal" text-anchor="middle" textLength="78.5" lengthAdjust="spacingAndGlyphs">(0 4 0)</text>
<text transform="translate(581.2 659.1) rotate(-90)" x="0" y="0" font-family='"Liberation Serif", serif' font-size="30" font-weight="normal" text-anchor="middle" textLength="78.5" lengthAdjust="spacingAndGlyphs">(0 6 0)</text>
<text transform="translate(128 999.5) rotate(-90)" x="0" y="0" font-family='"Liberation Serif", serif' font-size="30" font-weight="normal" text-anchor="middle" textLength="78.5" lengthAdjust="spacingAndGlyphs">(0 0 1)</text>
<text transform="translate(208 991.8) rotate(-90)" x="0" y="0" font-family='"Liberation Serif", serif' font-size="30" font-weight="normal" text-anchor="middle" textLength="78.5" lengthAdjust="spacingAndGlyphs">(0 0 2)</text>
<text transform="translate(327 1005.2) rotate(-90)" x="0" y="0" font-family='"Liberation Serif", serif' font-size="30" font-weight="normal" text-anchor="middle" textLength="78.5" lengthAdjust="spacingAndGlyphs">(0 0 3)</text>
<text transform="translate(445 1002.5) rotate(-90)" x="0" y="0" font-family='"Liberation Serif", serif' font-size="30" font-weight="normal" text-anchor="middle" textLength="78.5" lengthAdjust="spacingAndGlyphs">(0 0 4)</text>
<text transform="translate(596 997.4) rotate(-90)" x="0" y="0" font-family='"Liberation Serif", serif' font-size="30" font-weight="normal" text-anchor="middle" textLength="78.5" lengthAdjust="spacingAndGlyphs">(0 0 5)</text>
<text transform="translate(54.2 850.1) rotate(-90)" x="0" y="0" font-family='"Liberation Serif", serif' font-size="39" font-weight="normal" text-anchor="middle" textLength="334" lengthAdjust="spacingAndGlyphs">Intensity (arb.units.)</text>
<text x="329.9" y="1149" font-family='"Liberation Serif", serif' font-size="39" font-weight="normal" font-style="normal" text-anchor="start" textLength="86.3" lengthAdjust="spacingAndGlyphs">2θ (°)</text>
<polyline points="749,846.5 751.6,833.8 754.2,804.7 756.8,837.5 759.3,813.7 761.9,828.8 764.5,846.1 767.1,827.9 769.7,828.7 772.3,818.6 774.9,838.5 777.4,820.8 780,807.5 782.6,845.4 785.2,820.6 787.8,814.7 790.4,820.7 793,818.2 795.5,826.4 798.1,803 800.7,817 803.3,803 805.9,837 808.5,839.5 811.1,825.9 813.6,819.3 816.2,813 818.8,818.7 821.4,834.5 824,827.4 826.6,829.2 829.2,840.9 831.8,813.7 834.3,817.9 836.9,824.2 839.5,812.6 842.1,812.8 844.7,810.1 847.3,825.5 849.9,830.1 852.4,825 855,809.4 857.6,805.2 860.2,815 862.8,823.1 865.4,809.8 868,826.6 870.5,808.3 873.1,815 875.7,788 878.3,765.9 880.9,759.5 883.5,751.3 886.1,713.3 888.6,702.9 891.2,679.5 893.8,700.4 896.4,698.1 899,727.1 901.6,729.6 904.2,777.3 906.7,773.3 909.3,798.3 911.9,794.9 914.5,825.3 917.1,829 919.7,823 922.3,811.6 924.8,806 927.4,811.4 930,827.9 932.6,797.5 935.2,822.8 937.8,806.1 940.4,812.3 943,807.4 945.5,818.4 948.1,824.7 950.7,820.1 953.3,801.4 955.9,811.9 958.5,811.7 961.1,826 963.6,822 966.2,823.1 968.8,798.3 971.4,807.4 974,799.2 976.6,806.7 979.2,794.9 981.7,803 984.3,810.4 986.9,818.7 989.5,796.6 992.1,808.4 994.7,809.7 997.3,819.7 999.8,807.5 1002.4,822.4 1005,806.6 1007.6,816.5 1010.2,806.7 1012.8,806.5 1015.4,794 1017.9,833.1 1020.5,821.6 1023.1,814.8 1025.7,799 1028.3,822.5 1030.9,826.7 1033.5,806.2 1036,814 1038.6,820.2 1041.2,807.4 1043.8,823.8 1046.4,824.7 1049,815.7 1051.6,829.6 1054.1,806.2 1056.7,789.7 1059.3,815.7 1061.9,795.4 1064.5,795.3 1067.1,786.7 1069.7,828.1 1072.2,803 1074.8,801.3 1077.4,793.7 1080,801 1082.6,782.3 1085.2,794.1 1087.8,767.6 1090.4,775.7 1092.9,756.4 1095.5,772.3 1098.1,733.7 1100.7,745.7 1103.3,739.4 1105.9,755.6 1108.5,747.4 1111,765 1113.6,753.9 1116.2,781.3 1118.8,764.7 1121.4,801.8 1124,785.7 1126.6,799.9 1129.1,792 1131.7,811.1 1134.3,774.9 1136.9,797.5 1139.5,788.4 1142.1,800.8 1144.7,799.4 1147.2,775.6 1149.8,788.6 1152.4,781.2 1155,749.2 1157.6,758.9 1160.2,741.7 1162.8,747.1 1165.3,721 1167.9,737.5 1170.5,725.3 1173.1,747.8 1175.7,709.4 1178.3,750.3 1180.9,717.4 1183.4,739.3 1186,738 1188.6,738.5 1191.2,769.4 1193.8,776.6 1196.4,755.3 1199,751.1 1201.5,780 1204.1,785.3 1206.7,781.2 1209.3,793.5 1211.9,788 1214.5,798.1 1217.1,791.6 1219.7,795.2 1222.2,791.4 1224.8,780.1 1227.4,794.2 1230,810.5 1232.6,791.5 1235.2,781.7 1237.8,788.4 1240.3,816.4 1242.9,796.2 1245.5,782.5 1248.1,797.3 1250.7,806.3 1253.3,813.2 1255.9,795.7 1258.4,782.7 1261,783.5 1263.6,796.7 1266.2,796.1 1268.8,796.7 1271.4,816.2 1274,804.3 1276.5,804.8 1279.1,795.2 1281.7,795.9 1284.3,805.4 1286.9,802.7 1289.5,790.4 1292.1,802.2 1294.6,805.8 1297.2,818.3 1299.8,793.1 1302.4,818.2 1305,801 1307.6,805.9 1310.2,788.5 1312.7,818 1315.3,778.4 1317.9,790 1320.5,783.8 1323.1,818.1 1325.7,784.3 1328.3,776.7 1330.8,777.1 1333.4,803.4 1336,807 1338.6,792.9 1341.2,790.1 1343.8,812.9" fill="none" stroke="#e5242d" stroke-width="4.8" stroke-linejoin="miter" stroke-linecap="butt" stroke-miterlimit="10"/>
<polyline points="749,1030.5 751.6,1026.1 754.2,1026.3 756.8,1028.5 759.3,1000.1 761.9,1027.3 764.5,1015.8 767.1,1028.1 769.7,1024.6 772.3,1016.6 774.9,1035.7 777.4,1038.4 780,1015.3 782.6,1027.2 785.2,1038.4 787.8,1008.1 790.4,1026.4 793,999.6 795.5,1002.2 798.1,1013.1 800.7,1023 803.3,1003.6 805.9,1037.2 808.5,1008.2 811.1,1004.2 813.6,1015.9 816.2,1009.1 818.8,1003.7 821.4,1022.7 824,1021.6 826.6,1035.9 829.2,1032.1 831.8,1022.8 834.3,1009 836.9,1021.3 839.5,1012.7 842.1,1028.5 844.7,1003.6 847.3,999.5 849.9,1027.2 852.4,1030.9 855,1012.6 857.6,1028 860.2,994.2 862.8,1033.3 865.4,1000.1 868,1030.8 870.5,1017.1 873.1,1011 875.7,1009.3 878.3,996.6 880.9,968.1 883.5,953.9 886.1,934.9 888.6,906.9 891.2,884.7 893.8,887 896.4,884.3 899,909.1 901.6,936.4 904.2,942.3 906.7,967 909.3,1005.5 911.9,1001.6 914.5,1007.7 917.1,1002.5 919.7,994.5 922.3,992.4 924.8,1015.5 927.4,1009.5 930,1028.4 932.6,1028.8 935.2,994.1 937.8,998.4 940.4,1028.6 943,997.5 945.5,1009.7 948.1,1009.3 950.7,1009.6 953.3,1009.6 955.9,1033.5 958.5,990.5 961.1,1004.1 963.6,1015.6 966.2,1009 968.8,993.6 971.4,993.3 974,1003.1 976.6,999.5 979.2,1002.6 981.7,1023.7 984.3,990.4 986.9,1017.5 989.5,1014.4 992.1,1008.1 994.7,1000.6 997.3,1008 999.8,1007.7 1002.4,1028.2 1005,991.2 1007.6,1013.7 1010.2,1006.7 1012.8,1031.9 1015.4,991.4 1017.9,1019.9 1020.5,1016.6 1023.1,1024.1 1025.7,1002.8 1028.3,988.6 1030.9,1023.1 1033.5,999.2 1036,1012.3 1038.6,1021.2 1041.2,1005.7 1043.8,1012 1046.4,991.8 1049,1017 1051.6,999.8 1054.1,996.4 1056.7,991.7 1059.3,1027.4 1061.9,1004.3 1064.5,1010 1067.1,1009.7 1069.7,1027.1 1072.2,997.3 1074.8,1008.9 1077.4,1011 1080,1001.7 1082.6,988.7 1085.2,992.6 1087.8,970 1090.4,975.9 1092.9,942.7 1095.5,951.9 1098.1,944.5 1100.7,939.3 1103.3,962.4 1105.9,946.4 1108.5,935.8 1111,965.2 1113.6,967.8 1116.2,975.6 1118.8,992.3 1121.4,989.3 1124,988.5 1126.6,1000.8 1129.1,992.9 1131.7,1001.6 1134.3,995.5 1136.9,1004.8 1139.5,975.9 1142.1,1005.4 1144.7,987.3 1147.2,992.1 1149.8,971.5 1152.4,980.7 1155,975.6 1157.6,969 1160.2,966.2 1162.8,961.2 1165.3,930.1 1167.9,944.1 1170.5,932.7 1173.1,936 1175.7,934.7 1178.3,931.9 1180.9,910 1183.4,923.8 1186,913.1 1188.6,913.7 1191.2,944.6 1193.8,949.3 1196.4,935.7 1199,955.4 1201.5,961.4 1204.1,974.1 1206.7,973 1209.3,991 1211.9,988.2 1214.5,993 1217.1,983.6 1219.7,1005.2 1222.2,993 1224.8,989.7 1227.4,986.7 1230,1002.4 1232.6,993.4 1235.2,1005.4 1237.8,997.4 1240.3,1009.3 1242.9,1003.7 1245.5,1011.8 1248.1,1007.7 1250.7,1017.3 1253.3,993.6 1255.9,1016.7 1258.4,995.2 1261,1006.8 1263.6,990.8 1266.2,988.5 1268.8,1004.2 1271.4,1002.7 1274,987.9 1276.5,1012.8 1279.1,982.1 1281.7,1008.6 1284.3,984.6 1286.9,995.6 1289.5,994.1 1292.1,1004.3 1294.6,994 1297.2,1003.2 1299.8,988.3 1302.4,1014.1 1305,990.7 1307.6,1010.7 1310.2,989.1 1312.7,1009.8 1315.3,988.7 1317.9,1001 1320.5,981 1323.1,994.1 1325.7,993.3 1328.3,989.5 1330.8,986.1 1333.4,1016.2 1336,1000.2 1338.6,999.9 1341.2,987.3 1343.8,1005.2" fill="none" stroke="#000" stroke-width="5" stroke-linejoin="miter" stroke-linecap="butt" stroke-miterlimit="10"/>
<rect x="1346" y="580" width="4" height="500" fill="#fff"/>
<rect x="740" y="580" width="8" height="500" fill="#fff"/>
<rect x="749.3" y="587.6" width="595.3" height="488.1" fill="none" stroke="#000" stroke-width="2.7"/>
<line x1="852.4" y1="1075.7" x2="852.4" y2="1065.2" stroke="#000" stroke-width="2.4"/>
<text x="855.4" y="1110" font-family='"Liberation Serif", serif' font-size="39" font-weight="normal" font-style="normal" text-anchor="middle">350</text>
<line x1="981.7" y1="1075.7" x2="981.7" y2="1065.2" stroke="#000" stroke-width="2.4"/>
<text x="984.6" y="1110" font-family='"Liberation Serif", serif' font-size="39" font-weight="normal" font-style="normal" text-anchor="middle">400</text>
<line x1="1111" y1="1075.7" x2="1111" y2="1065.2" stroke="#000" stroke-width="2.4"/>
<text x="1113.5" y="1110" font-family='"Liberation Serif", serif' font-size="39" font-weight="normal" font-style="normal" text-anchor="middle">450</text>
<line x1="1240.3" y1="1075.7" x2="1240.3" y2="1065.2" stroke="#000" stroke-width="2.4"/>
<text x="1242.5" y="1110" font-family='"Liberation Serif", serif' font-size="39" font-weight="normal" font-style="normal" text-anchor="middle">500</text>
<text x="678.3" y="617.6" font-family='"Liberation Sans", sans-serif' font-size="39" font-weight="normal" font-style="normal" text-anchor="start" textLength="49.3" lengthAdjust="spacingAndGlyphs">(d)</text>
<text x="927.5" y="655.5" font-family='"Liberation Serif", serif' font-size="38" font-weight="bold" font-style="italic" text-anchor="start" textLength="342" lengthAdjust="spacingAndGlyphs">BP on mica substrate</text>
<text x="927.5" y="897.8" font-family='"Liberation Serif", serif' font-size="38" font-weight="bold" font-style="italic" text-anchor="start" textLength="374" lengthAdjust="spacingAndGlyphs">BP on Si/SiO<tspan font-size="22" dy="6">2</tspan><tspan dy="-6"> substrate</tspan></text>
<text x="830" y="695.6" font-family='"Liberation Serif", serif' font-size="33" font-weight="normal" font-style="normal" text-anchor="start">A</text>
<text x="858.5" y="683.5" font-family='"Liberation Sans", sans-serif' font-size="17" font-weight="bold" font-style="normal" text-anchor="start">1</text>
<text x="867.6" y="704.5" font-family='"Liberation Sans", sans-serif' font-size="20" font-weight="bold" font-style="normal" text-anchor="start">g</text>
<text x="1036.6" y="736.8" font-family='"Liberation Serif", serif' font-size="33" font-weight="normal" font-style="normal" text-anchor="start">B</text>
<text x="1062.5" y="745.5" font-family='"Liberation Serif", serif' font-size="20" font-weight="normal" font-style="normal" text-anchor="start">2g</text>
<text x="1206" y="736.8" font-family='"Liberation Serif", serif' font-size="33" font-weight="normal" font-style="normal" text-anchor="start">A</text>
<text x="1232" y="725" font-family='"Liberation Serif", serif' font-size="20" font-weight="normal" font-style="normal" text-anchor="start">2</text>
<text x="1243.5" y="745.5" font-family='"Liberation Serif", serif' font-size="20" font-weight="normal" font-style="normal" text-anchor="start">g</text>
<text x="883.2" y="1148" font-family='"Liberation Serif", serif' font-size="37.5" font-weight="normal" font-style="normal" text-anchor="start" textLength="188" lengthAdjust="spacingAndGlyphs">Raman shift</text>
<text x="1076.6" y="1148" font-family='"Liberation Serif", serif' font-size="37.5" font-weight="normal" font-style="normal" text-anchor="start">(cm<tspan font-size="15" dy="-15">-1</tspan><tspan dy="15">)</tspan></text>
<text transform="translate(723.4 845.6) rotate(-90)" x="0" y="0" font-family='"Liberation Serif", serif' font-size="36.5" font-weight="normal" text-anchor="middle" textLength="429" lengthAdjust="spacingAndGlyphs">Raman intensity (arb.units.)</text>
</svg></body></html>
